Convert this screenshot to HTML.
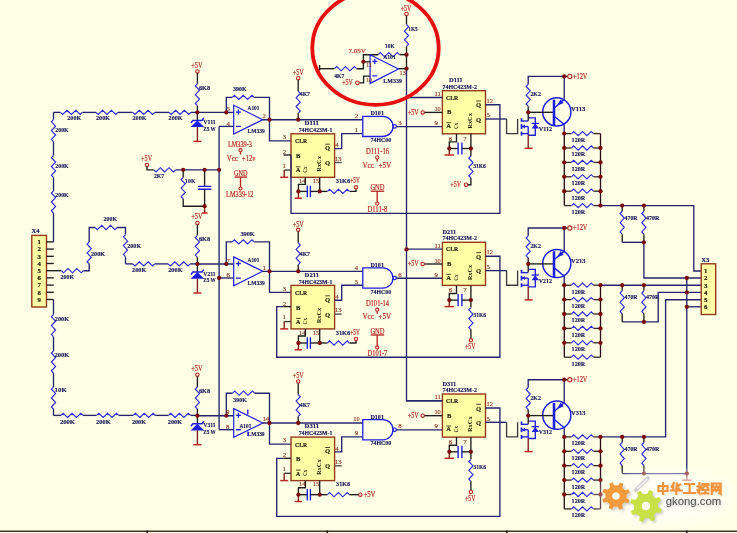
<!DOCTYPE html>
<html><head><meta charset="utf-8"><style>
html,body{margin:0;padding:0;background:#FFFFE6;}
body{width:737px;height:533px;overflow:hidden;}
svg{display:block;filter:blur(0.3px);}
</style></head><body>
<svg width="737" height="533" viewBox="0 0 737 533">
<rect width="737" height="533" fill="#FFFFE6"/>
<text x="191.2" y="67.65" font-family="Liberation Serif" font-size="7.2" font-weight="normal" fill="#b42824" text-anchor="start" textLength="11.3" lengthAdjust="spacingAndGlyphs"  stroke="#b42824" stroke-width="0.18">+5V</text>
<circle cx="197.4" cy="71.4" r="1.7" fill="none" stroke="#b42824" stroke-width="1.1"/>
<path d="M197.4,73.1 L197.4,83.7" stroke="#1e1e1e" stroke-width="1.35" fill="none" />
<path d="M197.4,83.7 L195.3,85.9 L199.5,90.3 L195.3,94.7 L199.5,99.1 L195.3,103.5 L197.4,105.7" stroke="#2a2ad6" stroke-width="1.15" fill="none" />
<path d="M197.4,105.7 L197.4,112.4" stroke="#1e1e1e" stroke-width="1.35" fill="none" />
<text x="198.9" y="89.68" font-family="Liberation Serif" font-size="7.0" font-weight="bold" fill="#18185a" text-anchor="start" textLength="11.2" lengthAdjust="spacingAndGlyphs"  stroke="#18185a" stroke-width="0.18">6K8</text>
<path d="M197.4,112.4 L197.4,120.4" stroke="#1e1e1e" stroke-width="1.35" fill="none" />
<path d="M190.6,127.1 L204.2,127.1 L197.4,120.4 Z" fill="#1e1ee0"/>
<path d="M191,123 L192.8,120.4 H202 L203.8,118" stroke="#1e1ee0" stroke-width="1.5" fill="none"/>
<path d="M197.4,127.1 L197.4,141.4" stroke="#7a1a1a" stroke-width="1.35" fill="none" />
<path d="M193.4,141.4 H201.4" stroke="#c02424" stroke-width="1.5" fill="none"/>
<text x="203.3" y="123.98" font-family="Liberation Serif" font-size="7.0" font-weight="bold" fill="#18185a" text-anchor="start" textLength="12.4" lengthAdjust="spacingAndGlyphs"  stroke="#18185a" stroke-width="0.18">V111</text>
<text x="203.3" y="130.88" font-family="Liberation Serif" font-size="7.0" font-weight="bold" fill="#18185a" text-anchor="start" textLength="12.5" lengthAdjust="spacingAndGlyphs"  stroke="#18185a" stroke-width="0.18">Z5 W</text>
<path d="M197.4,112.4 L233.7,112.4" stroke="#24246e" stroke-width="1.35" fill="none" />
<path d="M233.7,105.3 L262.7,119.7 L233.7,134.1 Z" fill="none" stroke="#1e1ee0" stroke-width="1.2"/>
<path d="M235.9,112.07 h5 M238.4,109.57 v5 M235.9,126.47 h5" stroke="#1e1ee0" stroke-width="1.3" fill="none"/>
<path d="M226.3,112.4 L226.3,97.4 L232.2,97.4" stroke="#24246e" stroke-width="1.35" fill="none" />
<path d="M232.2,97.4 L234.4,95.3 L238.8,99.5 L243.2,95.3 L247.6,99.5 L252,95.3 L254.2,97.4" stroke="#2a2ad6" stroke-width="1.15" fill="none" />
<path d="M254.2,97.4 L269.5,97.4 L269.5,119.7" stroke="#24246e" stroke-width="1.35" fill="none" />
<text x="233" y="90.78" font-family="Liberation Serif" font-size="7.0" font-weight="bold" fill="#18185a" text-anchor="start" textLength="13.7" lengthAdjust="spacingAndGlyphs"  stroke="#18185a" stroke-width="0.18">390K</text>
<text x="226.4" y="110.91" font-family="Liberation Serif" font-size="6.8" font-weight="normal" fill="#8c2818" text-anchor="start"  stroke="#8c2818" stroke-width="0.12">5</text>
<text x="226.4" y="125.51" font-family="Liberation Serif" font-size="6.8" font-weight="normal" fill="#8c2818" text-anchor="start"  stroke="#8c2818" stroke-width="0.12">4</text>
<text x="262.4" y="117.91" font-family="Liberation Serif" font-size="6.8" font-weight="normal" fill="#8c2818" text-anchor="start"  stroke="#8c2818" stroke-width="0.12">2</text>
<text x="247.5" y="110.28" font-family="Liberation Serif" font-size="7.0" font-weight="bold" fill="#18185a" text-anchor="start" textLength="12" lengthAdjust="spacingAndGlyphs"  stroke="#18185a" stroke-width="0.18">A101</text>
<text x="247.5" y="132.98" font-family="Liberation Serif" font-size="7.0" font-weight="bold" fill="#18185a" text-anchor="start" textLength="17.2" lengthAdjust="spacingAndGlyphs"  stroke="#18185a" stroke-width="0.18">LM339</text>
<path d="M219.1,126.4 L233.7,126.4" stroke="#24246e" stroke-width="1.35" fill="none" />
<path d="M262.7,119.7 L362.6,119.7" stroke="#24246e" stroke-width="1.35" fill="none" />
<path d="M269.5,119.7 L269.5,140.8 L291,140.8" stroke="#24246e" stroke-width="1.35" fill="none" />
<text x="292.8" y="75.15" font-family="Liberation Serif" font-size="7.2" font-weight="normal" fill="#b42824" text-anchor="start" textLength="11" lengthAdjust="spacingAndGlyphs"  stroke="#b42824" stroke-width="0.18">+5V</text>
<circle cx="298.2" cy="78.2" r="1.7" fill="none" stroke="#b42824" stroke-width="1.1"/>
<path d="M298.2,79.9 L298.2,91.2" stroke="#1e1e1e" stroke-width="1.35" fill="none" />
<path d="M298.2,91.2 L300.3,93.4 L296.1,97.8 L300.3,102.2 L296.1,106.6 L300.3,111 L298.2,113.2" stroke="#2a2ad6" stroke-width="1.15" fill="none" />
<path d="M298.2,113.2 L298.2,119.7" stroke="#1e1e1e" stroke-width="1.35" fill="none" />
<text x="299.8" y="96.08" font-family="Liberation Serif" font-size="7.0" font-weight="bold" fill="#18185a" text-anchor="start" textLength="10.2" lengthAdjust="spacingAndGlyphs"  stroke="#18185a" stroke-width="0.18">4K7</text>
<text x="304.6" y="125.18" font-family="Liberation Serif" font-size="7.0" font-weight="bold" fill="#18185a" text-anchor="start" textLength="14.4" lengthAdjust="spacingAndGlyphs"  stroke="#18185a" stroke-width="0.18">D111</text>
<text x="298.7" y="131.98" font-family="Liberation Serif" font-size="7.0" font-weight="bold" fill="#18185a" text-anchor="start" textLength="33.7" lengthAdjust="spacingAndGlyphs"  stroke="#18185a" stroke-width="0.18">74HC423M-1</text>
<rect x="291" y="133.8" width="43.6" height="43.5" fill="#FFFFA6" stroke="#923a1c" stroke-width="1.4"/>
<text x="282.8" y="139.11" font-family="Liberation Serif" font-size="6.8" font-weight="normal" fill="#8c2818" text-anchor="start"  stroke="#8c2818" stroke-width="0.12">3</text>
<text x="282.8" y="153.91" font-family="Liberation Serif" font-size="6.8" font-weight="normal" fill="#8c2818" text-anchor="start"  stroke="#8c2818" stroke-width="0.12">2</text>
<text x="282.4" y="167.71" font-family="Liberation Serif" font-size="6.8" font-weight="normal" fill="#8c2818" text-anchor="start"  stroke="#8c2818" stroke-width="0.12">1</text>
<text x="295" y="143.21" font-family="Liberation Serif" font-size="6.5" font-weight="bold" fill="#1a1a08" text-anchor="start" textLength="12.1" lengthAdjust="spacingAndGlyphs"  stroke="#1a1a08" stroke-width="0.18">CLR</text>
<text x="296" y="157.91" font-family="Liberation Serif" font-size="6.5" font-weight="bold" fill="#1a1a08" text-anchor="start"  stroke="#1a1a08" stroke-width="0.18">B</text>
<text x="295.8" y="172.21" font-family="Liberation Serif" font-size="6.5" font-weight="bold" fill="#1a1a08" text-anchor="start"  stroke="#1a1a08" stroke-width="0.18">A</text>
<path d="M295.9,166.8 L300.6,166.8" stroke="#1a1a08" stroke-width="0.8" fill="none" />
<text transform="translate(304.8,169.6) rotate(-90)" x="0" y="2.04" text-anchor="middle" font-family="Liberation Serif" font-size="6.0" font-weight="bold" fill="#1a1a08" textLength="6.4" lengthAdjust="spacingAndGlyphs">Cx</text>
<text transform="translate(318.8,163.9) rotate(-90)" x="0" y="2.04" text-anchor="middle" font-family="Liberation Serif" font-size="6.0" font-weight="bold" fill="#1a1a08" textLength="15.6" lengthAdjust="spacingAndGlyphs">RxCx</text>
<text x="325" y="150.01" font-family="Liberation Serif" font-size="6.5" font-weight="bold" fill="#1a1a08" text-anchor="start"  stroke="#1a1a08" stroke-width="0.18">Q</text>
<path d="M325.2,144.2 L329.9,144.2" stroke="#1a1a08" stroke-width="0.8" fill="none" />
<text x="325" y="165.01" font-family="Liberation Serif" font-size="6.5" font-weight="bold" fill="#1a1a08" text-anchor="start"  stroke="#1a1a08" stroke-width="0.18">Q</text>
<path d="M283.5,155 L291,155" stroke="#1e1e1e" stroke-width="1.35" fill="none" />
<path d="M284.2,170 L291,170" stroke="#3a3a3a" stroke-width="1.35" fill="none" />
<path d="M284.2,170 L284.2,177.3" stroke="#7a1a1a" stroke-width="1.35" fill="none" />
<path d="M280.2,177.3 H288.2" stroke="#c02424" stroke-width="1.5" fill="none"/>
<path d="M334.6,148.6 L341.7,148.6 L341.7,133.6 L362.6,133.6" stroke="#24246e" stroke-width="1.35" fill="none" />
<text x="335.3" y="147.21" font-family="Liberation Serif" font-size="6.8" font-weight="normal" fill="#8c2818" text-anchor="start"  stroke="#8c2818" stroke-width="0.12">4</text>
<path d="M334.6,162.5 L341.7,162.5" stroke="#4a4a4a" stroke-width="1.35" fill="none" />
<text x="335" y="160.71" font-family="Liberation Serif" font-size="6.8" font-weight="normal" fill="#8c2818" text-anchor="start" textLength="6.4" lengthAdjust="spacingAndGlyphs"  stroke="#8c2818" stroke-width="0.12">13</text>
<text x="299" y="183.11" font-family="Liberation Serif" font-size="6.8" font-weight="normal" fill="#8c2818" text-anchor="start" textLength="6.6" lengthAdjust="spacingAndGlyphs"  stroke="#8c2818" stroke-width="0.12">14</text>
<text x="312.8" y="183.11" font-family="Liberation Serif" font-size="6.8" font-weight="normal" fill="#8c2818" text-anchor="start" textLength="6.6" lengthAdjust="spacingAndGlyphs"  stroke="#8c2818" stroke-width="0.12">15</text>
<path d="M305.4,177.3 L305.4,184.4 L298.4,184.4 L298.4,191.4" stroke="#1e1e1e" stroke-width="1.35" fill="none" />
<path d="M298.4,191.4 L298.4,198.2" stroke="#7a1a1a" stroke-width="1.35" fill="none" />
<path d="M294.7,198.2 H301.9" stroke="#c02424" stroke-width="1.5" fill="none"/>
<path d="M298.4,191.4 L307.3,191.4" stroke="#1e1e1e" stroke-width="1.35" fill="none" />
<path d="M307.3,185.65 V197.15 M310.4,185.65 V197.15" stroke="#1e1ee0" stroke-width="1.4" fill="none"/>
<path d="M310.4,191.4 L319.7,191.4" stroke="#1e1e1e" stroke-width="1.35" fill="none" />
<path d="M319.7,177.3 L319.7,191.4" stroke="#1e1e1e" stroke-width="1.35" fill="none" />
<path d="M319.7,191.4 L327.4,191.4" stroke="#1e1e1e" stroke-width="1.35" fill="none" />
<path d="M327.4,191.4 L329.6,189.3 L334,193.5 L338.4,189.3 L342.8,193.5 L347.2,189.3 L349.4,191.4" stroke="#2a2ad6" stroke-width="1.15" fill="none" />
<path d="M349.4,191.4 L356,191.4 L356,189" stroke="#1e1e1e" stroke-width="1.35" fill="none" />
<circle cx="356" cy="187.3" r="1.7" fill="none" stroke="#b42824" stroke-width="1.1"/>
<text x="335.8" y="183.18" font-family="Liberation Serif" font-size="7.0" font-weight="bold" fill="#18185a" text-anchor="start" textLength="14.4" lengthAdjust="spacingAndGlyphs"  stroke="#18185a" stroke-width="0.18">31K6</text>
<text x="350.2" y="183.25" font-family="Liberation Serif" font-size="7.2" font-weight="normal" fill="#b42824" text-anchor="start" textLength="9.6" lengthAdjust="spacingAndGlyphs"  stroke="#b42824" stroke-width="0.18">+5V</text>
<path d="M362.8,116.3 H382.8 A10.2,10.1 0 0 1 382.8,136.5 H362.8 Z" fill="none" stroke="#1e1ee0" stroke-width="1.3"/>
<circle cx="394.7" cy="126.4" r="1.7" fill="none" stroke="#1e1ee0" stroke-width="1.2"/>
<text x="354.8" y="117.91" font-family="Liberation Serif" font-size="6.8" font-weight="normal" fill="#8c2818" text-anchor="start"  stroke="#8c2818" stroke-width="0.12">2</text>
<text x="354.8" y="131.91" font-family="Liberation Serif" font-size="6.8" font-weight="normal" fill="#8c2818" text-anchor="start"  stroke="#8c2818" stroke-width="0.12">1</text>
<text x="398.2" y="125.11" font-family="Liberation Serif" font-size="6.8" font-weight="normal" fill="#8c2818" text-anchor="start"  stroke="#8c2818" stroke-width="0.12">3</text>
<text x="370.4" y="115.38" font-family="Liberation Serif" font-size="7.0" font-weight="bold" fill="#18185a" text-anchor="start" textLength="13.6" lengthAdjust="spacingAndGlyphs"  stroke="#18185a" stroke-width="0.18">D101</text>
<text x="370.6" y="142.18" font-family="Liberation Serif" font-size="7.0" font-weight="bold" fill="#18185a" text-anchor="start" textLength="20.6" lengthAdjust="spacingAndGlyphs"  stroke="#18185a" stroke-width="0.18">74HC00</text>
<path d="M396.4,126.6 L442.4,126.6" stroke="#24246e" stroke-width="1.35" fill="none" />
<text x="449" y="82.28" font-family="Liberation Serif" font-size="7.0" font-weight="bold" fill="#18185a" text-anchor="start" textLength="13.6" lengthAdjust="spacingAndGlyphs"  stroke="#18185a" stroke-width="0.18">D111</text>
<text x="442.4" y="88.68" font-family="Liberation Serif" font-size="7.0" font-weight="bold" fill="#18185a" text-anchor="start" textLength="34.6" lengthAdjust="spacingAndGlyphs"  stroke="#18185a" stroke-width="0.18">74HC423M-2</text>
<rect x="442.4" y="90.7" width="43.1" height="43.1" fill="#FFFFA6" stroke="#923a1c" stroke-width="1.4"/>
<text x="446.1" y="99.61" font-family="Liberation Serif" font-size="6.5" font-weight="bold" fill="#1a1a08" text-anchor="start" textLength="12.1" lengthAdjust="spacingAndGlyphs"  stroke="#1a1a08" stroke-width="0.18">CLR</text>
<text x="446.9" y="114.31" font-family="Liberation Serif" font-size="6.5" font-weight="bold" fill="#1a1a08" text-anchor="start"  stroke="#1a1a08" stroke-width="0.18">B</text>
<text x="446.2" y="128.11" font-family="Liberation Serif" font-size="6.5" font-weight="bold" fill="#1a1a08" text-anchor="start"  stroke="#1a1a08" stroke-width="0.18">A</text>
<path d="M446.3,122.7 L451,122.7" stroke="#1a1a08" stroke-width="0.8" fill="none" />
<text transform="translate(456,125.9) rotate(-90)" x="0" y="2.04" text-anchor="middle" font-family="Liberation Serif" font-size="6.0" font-weight="bold" fill="#1a1a08" textLength="6.4" lengthAdjust="spacingAndGlyphs">Cx</text>
<text transform="translate(469.9,120.9) rotate(-90)" x="0" y="2.04" text-anchor="middle" font-family="Liberation Serif" font-size="6.0" font-weight="bold" fill="#1a1a08" textLength="15.6" lengthAdjust="spacingAndGlyphs">RxCx</text>
<text x="476" y="107.41" font-family="Liberation Serif" font-size="6.5" font-weight="bold" fill="#1a1a08" text-anchor="start"  stroke="#1a1a08" stroke-width="0.18">Q</text>
<path d="M476.2,101 L480.9,101" stroke="#1a1a08" stroke-width="0.8" fill="none" />
<text x="476" y="121.51" font-family="Liberation Serif" font-size="6.5" font-weight="bold" fill="#1a1a08" text-anchor="start"  stroke="#1a1a08" stroke-width="0.18">Q</text>
<text x="434.4" y="96.11" font-family="Liberation Serif" font-size="6.8" font-weight="normal" fill="#8c2818" text-anchor="start" textLength="6.4" lengthAdjust="spacingAndGlyphs"  stroke="#8c2818" stroke-width="0.12">11</text>
<text x="434.4" y="110.91" font-family="Liberation Serif" font-size="6.8" font-weight="normal" fill="#8c2818" text-anchor="start" textLength="6.4" lengthAdjust="spacingAndGlyphs"  stroke="#8c2818" stroke-width="0.12">10</text>
<text x="434.6" y="125.11" font-family="Liberation Serif" font-size="6.8" font-weight="normal" fill="#8c2818" text-anchor="start"  stroke="#8c2818" stroke-width="0.12">9</text>
<text x="486.6" y="102.71" font-family="Liberation Serif" font-size="6.8" font-weight="normal" fill="#8c2818" text-anchor="start" textLength="6.4" lengthAdjust="spacingAndGlyphs"  stroke="#8c2818" stroke-width="0.12">12</text>
<text x="486.4" y="117.21" font-family="Liberation Serif" font-size="6.8" font-weight="normal" fill="#8c2818" text-anchor="start"  stroke="#8c2818" stroke-width="0.12">5</text>
<text x="407.7" y="114.65" font-family="Liberation Serif" font-size="7.2" font-weight="normal" fill="#b42824" text-anchor="start" textLength="11" lengthAdjust="spacingAndGlyphs"  stroke="#b42824" stroke-width="0.18">+5V</text>
<circle cx="422.7" cy="112.4" r="1.7" fill="none" stroke="#b42824" stroke-width="1.1"/>
<path d="M424.5,112.4 L442.4,112.4" stroke="#1e1e1e" stroke-width="1.35" fill="none" />
<path d="M406.4,97.5 L442.4,97.5" stroke="#24246e" stroke-width="1.35" fill="none" />
<text x="448.8" y="140.51" font-family="Liberation Serif" font-size="6.8" font-weight="normal" fill="#8c2818" text-anchor="start"  stroke="#8c2818" stroke-width="0.12">6</text>
<text x="463.2" y="140.51" font-family="Liberation Serif" font-size="6.8" font-weight="normal" fill="#8c2818" text-anchor="start"  stroke="#8c2818" stroke-width="0.12">7</text>
<path d="M456.5,133.8 L456.5,141.9 L449.3,141.9 L449.3,148.5" stroke="#1e1e1e" stroke-width="1.35" fill="none" />
<path d="M449.3,148.5 L449.3,155" stroke="#7a1a1a" stroke-width="1.35" fill="none" />
<path d="M444.55,155 H454.05" stroke="#c02424" stroke-width="1.5" fill="none"/>
<path d="M449.3,148.5 L458.1,148.5" stroke="#1e1e1e" stroke-width="1.35" fill="none" />
<path d="M458.1,142.4 V154.6 M461.9,142.4 V154.6" stroke="#1e1ee0" stroke-width="1.4" fill="none"/>
<path d="M461.9,148.5 L470.9,148.5" stroke="#1e1e1e" stroke-width="1.35" fill="none" />
<path d="M470.9,133.8 L470.9,148.5" stroke="#1e1e1e" stroke-width="1.35" fill="none" />
<path d="M470.9,148.5 L470.9,156" stroke="#1e1e1e" stroke-width="1.35" fill="none" />
<path d="M470.9,156 L468.8,158.2 L473,162.6 L468.8,167 L473,171.4 L468.8,175.8 L470.9,178" stroke="#2a2ad6" stroke-width="1.15" fill="none" />
<path d="M470.9,178 L470.9,184.7 L467.8,184.7" stroke="#1e1e1e" stroke-width="1.35" fill="none" />
<circle cx="466" cy="184.7" r="1.7" fill="none" stroke="#b42824" stroke-width="1.1"/>
<text x="450.3" y="187.15" font-family="Liberation Serif" font-size="7.2" font-weight="normal" fill="#b42824" text-anchor="start" textLength="10.7" lengthAdjust="spacingAndGlyphs"  stroke="#b42824" stroke-width="0.18">+5V</text>
<text x="473.2" y="167.68" font-family="Liberation Serif" font-size="7.0" font-weight="bold" fill="#18185a" text-anchor="start" textLength="12.7" lengthAdjust="spacingAndGlyphs"  stroke="#18185a" stroke-width="0.18">31K6</text>
<path d="M485.5,119 L506.6,119" stroke="#24246e" stroke-width="1.35" fill="none" />
<path d="M485.5,104.7 L499.9,104.7 L499.9,213.3 L291,213.3 L291,155" stroke="#24246e" stroke-width="1.35" fill="none" />
<path d="M506.6,119 L506.6,133.6 L517.6,133.6 L517.6,119" stroke="#3a3a3a" stroke-width="1.35" fill="none" />
<path d="M521.5,118.2 L521.5,121.8" stroke="#1e1ee0" stroke-width="1.7" fill="none" />
<path d="M521.5,124.1 L521.5,128.9" stroke="#1e1ee0" stroke-width="1.7" fill="none" />
<path d="M521.5,131.6 L521.5,135.6" stroke="#1e1ee0" stroke-width="1.7" fill="none" />
<path d="M521.5,121 L528.2,121" stroke="#1e1ee0" stroke-width="1.35" fill="none" />
<path d="M521.5,126.5 L528.2,126.5" stroke="#1e1ee0" stroke-width="1.35" fill="none" />
<path d="M521.5,133.6 L528.2,133.6" stroke="#1e1ee0" stroke-width="1.35" fill="none" />
<path d="M522,126.5 l3,-2 v4 z" fill="#1e1ee0"/>
<path d="M528.2,126.5 L528.2,135.2" stroke="#1e1ee0" stroke-width="1.35" fill="none" />
<path d="M528.2,117.8 L535.3,117.8 L535.3,135.2 L528.2,135.2" stroke="#1e1ee0" stroke-width="1.35" fill="none" />
<path d="M531.6,128.6 H539 L535.3,123.6 Z" fill="#1e1ee0"/>
<path d="M531.6,123.4 L539,123.4" stroke="#1e1ee0" stroke-width="1.3" fill="none" />
<path d="M528.2,112.3 L528.2,121" stroke="#1e1e1e" stroke-width="1.35" fill="none" />
<path d="M528.2,135.2 L528.2,148.3" stroke="#7a1a1a" stroke-width="1.35" fill="none" />
<path d="M524.6,148.3 H532.6" stroke="#c02424" stroke-width="1.5" fill="none"/>
<circle cx="556.8" cy="111.9" r="14.1" fill="none" stroke="#1e1ee0" stroke-width="1.5"/>
<path d="M528.2,112.3 L554,112.3" stroke="#1e1e1e" stroke-width="1.35" fill="none" />
<path d="M554,99.6 L554,126" stroke="#1e1ee0" stroke-width="2.6" fill="none" />
<path d="M554,108.2 L564.2,99.5 L564.2,98.5" stroke="#1e1ee0" stroke-width="1.4" fill="none" />
<path d="M564.2,98.5 L564.2,76.4" stroke="#24246e" stroke-width="1.35" fill="none" />
<path d="M554,116 L564.2,124.5 L564.2,125.5" stroke="#1e1ee0" stroke-width="1.4" fill="none" />
<path d="M564.2,125.5 L564.2,133.6" stroke="#24246e" stroke-width="1.35" fill="none" />
<path d="M557,105.8 L563.6,103.1 L560.6,99.3 Z" fill="#1e1ee0"/>
<path d="M528.2,112.3 L528.2,106.2" stroke="#1e1e1e" stroke-width="1.35" fill="none" />
<path d="M528.2,106.2 L526.1,104 L530.3,99.6 L526.1,95.2 L530.3,90.8 L526.1,86.4 L528.2,84.2" stroke="#2a2ad6" stroke-width="1.15" fill="none" />
<path d="M528.2,84.2 L528.2,76.4 L564.2,76.4" stroke="#24246e" stroke-width="1.35" fill="none" />
<path d="M564.2,76.4 L567.8,76.4" stroke="#1e1e1e" stroke-width="1.35" fill="none" />
<circle cx="569.8" cy="76.4" r="2.1" fill="none" stroke="#b42824" stroke-width="1.1"/>
<text x="573" y="78.65" font-family="Liberation Serif" font-size="7.2" font-weight="normal" fill="#b42824" text-anchor="start" textLength="14.4" lengthAdjust="spacingAndGlyphs"  stroke="#b42824" stroke-width="0.18">+12V</text>
<text x="530.4" y="96.38" font-family="Liberation Serif" font-size="7.0" font-weight="bold" fill="#18185a" text-anchor="start" textLength="10.6" lengthAdjust="spacingAndGlyphs"  stroke="#18185a" stroke-width="0.18">2K2</text>
<text x="571" y="111.38" font-family="Liberation Serif" font-size="7.0" font-weight="bold" fill="#18185a" text-anchor="start" textLength="14.4" lengthAdjust="spacingAndGlyphs"  stroke="#18185a" stroke-width="0.18">V113</text>
<text x="538.8" y="131.18" font-family="Liberation Serif" font-size="7.0" font-weight="bold" fill="#18185a" text-anchor="start" textLength="13.2" lengthAdjust="spacingAndGlyphs"  stroke="#18185a" stroke-width="0.18">V112</text>
<path d="M564.3,133.6 L564.3,205.6" stroke="#2a1018" stroke-width="1.35" fill="none" />
<path d="M600.5,133.6 L600.5,205.6" stroke="#2a1018" stroke-width="1.35" fill="none" />
<path d="M564.2,133.6 L571.5,133.6" stroke="#3a2a2a" stroke-width="1.35" fill="none" />
<path d="M571.5,133.6 L573.7,131.5 L578.1,135.7 L582.5,131.5 L586.9,135.7 L591.3,131.5 L593.5,133.6" stroke="#2a2ad6" stroke-width="1.15" fill="none" />
<path d="M593.5,133.6 L600.5,133.6" stroke="#3a2a2a" stroke-width="1.35" fill="none" />
<text x="571.6" y="142.05" font-family="Liberation Serif" font-size="6.9" font-weight="bold" fill="#18185a" text-anchor="start" textLength="13.6" lengthAdjust="spacingAndGlyphs"  stroke="#18185a" stroke-width="0.18">120R</text>
<path d="M564.2,148 L571.5,148" stroke="#3a2a2a" stroke-width="1.35" fill="none" />
<path d="M571.5,148 L573.7,145.9 L578.1,150.1 L582.5,145.9 L586.9,150.1 L591.3,145.9 L593.5,148" stroke="#2a2ad6" stroke-width="1.15" fill="none" />
<path d="M593.5,148 L600.5,148" stroke="#3a2a2a" stroke-width="1.35" fill="none" />
<text x="571.6" y="156.45" font-family="Liberation Serif" font-size="6.9" font-weight="bold" fill="#18185a" text-anchor="start" textLength="13.6" lengthAdjust="spacingAndGlyphs"  stroke="#18185a" stroke-width="0.18">120R</text>
<path d="M564.2,162.4 L571.5,162.4" stroke="#3a2a2a" stroke-width="1.35" fill="none" />
<path d="M571.5,162.4 L573.7,160.3 L578.1,164.5 L582.5,160.3 L586.9,164.5 L591.3,160.3 L593.5,162.4" stroke="#2a2ad6" stroke-width="1.15" fill="none" />
<path d="M593.5,162.4 L600.5,162.4" stroke="#3a2a2a" stroke-width="1.35" fill="none" />
<text x="571.6" y="170.85" font-family="Liberation Serif" font-size="6.9" font-weight="bold" fill="#18185a" text-anchor="start" textLength="13.6" lengthAdjust="spacingAndGlyphs"  stroke="#18185a" stroke-width="0.18">120R</text>
<path d="M564.2,176.8 L571.5,176.8" stroke="#3a2a2a" stroke-width="1.35" fill="none" />
<path d="M571.5,176.8 L573.7,174.7 L578.1,178.9 L582.5,174.7 L586.9,178.9 L591.3,174.7 L593.5,176.8" stroke="#2a2ad6" stroke-width="1.15" fill="none" />
<path d="M593.5,176.8 L600.5,176.8" stroke="#3a2a2a" stroke-width="1.35" fill="none" />
<text x="571.6" y="185.25" font-family="Liberation Serif" font-size="6.9" font-weight="bold" fill="#18185a" text-anchor="start" textLength="13.6" lengthAdjust="spacingAndGlyphs"  stroke="#18185a" stroke-width="0.18">120R</text>
<path d="M564.2,191.2 L571.5,191.2" stroke="#3a2a2a" stroke-width="1.35" fill="none" />
<path d="M571.5,191.2 L573.7,189.1 L578.1,193.3 L582.5,189.1 L586.9,193.3 L591.3,189.1 L593.5,191.2" stroke="#2a2ad6" stroke-width="1.15" fill="none" />
<path d="M593.5,191.2 L600.5,191.2" stroke="#3a2a2a" stroke-width="1.35" fill="none" />
<text x="571.6" y="199.65" font-family="Liberation Serif" font-size="6.9" font-weight="bold" fill="#18185a" text-anchor="start" textLength="13.6" lengthAdjust="spacingAndGlyphs"  stroke="#18185a" stroke-width="0.18">120R</text>
<path d="M564.2,205.6 L571.5,205.6" stroke="#3a2a2a" stroke-width="1.35" fill="none" />
<path d="M571.5,205.6 L573.7,203.5 L578.1,207.7 L582.5,203.5 L586.9,207.7 L591.3,203.5 L593.5,205.6" stroke="#2a2ad6" stroke-width="1.15" fill="none" />
<path d="M593.5,205.6 L600.5,205.6" stroke="#3a2a2a" stroke-width="1.35" fill="none" />
<text x="571.6" y="214.05" font-family="Liberation Serif" font-size="6.9" font-weight="bold" fill="#18185a" text-anchor="start" textLength="13.6" lengthAdjust="spacingAndGlyphs"  stroke="#18185a" stroke-width="0.18">120R</text>
<path d="M600.5,205.6 L643.9,205.6" stroke="#24246e" stroke-width="1.35" fill="none" />
<path d="M622.2,205.6 L622.2,211.2" stroke="#1e1e1e" stroke-width="1.35" fill="none" />
<path d="M622.2,211.2 L620.1,213.5 L624.3,218.1 L620.1,222.7 L624.3,227.3 L620.1,231.9 L622.2,234.2" stroke="#2a2ad6" stroke-width="1.15" fill="none" />
<path d="M622.2,234.2 L622.2,242.3" stroke="#1e1e1e" stroke-width="1.35" fill="none" />
<path d="M643.9,205.6 L643.9,211.2" stroke="#1e1e1e" stroke-width="1.35" fill="none" />
<path d="M643.9,211.2 L641.8,213.5 L646,218.1 L641.8,222.7 L646,227.3 L641.8,231.9 L643.9,234.2" stroke="#2a2ad6" stroke-width="1.15" fill="none" />
<path d="M643.9,234.2 L643.9,242.3" stroke="#1e1e1e" stroke-width="1.35" fill="none" />
<text x="624.6" y="219.58" font-family="Liberation Serif" font-size="7.0" font-weight="bold" fill="#18185a" text-anchor="start" textLength="13" lengthAdjust="spacingAndGlyphs"  stroke="#18185a" stroke-width="0.18">470R</text>
<text x="645.9" y="219.58" font-family="Liberation Serif" font-size="7.0" font-weight="bold" fill="#18185a" text-anchor="start" textLength="13.6" lengthAdjust="spacingAndGlyphs"  stroke="#18185a" stroke-width="0.18">470R</text>
<text x="191.2" y="219.25" font-family="Liberation Serif" font-size="7.2" font-weight="normal" fill="#b42824" text-anchor="start" textLength="11.3" lengthAdjust="spacingAndGlyphs"  stroke="#b42824" stroke-width="0.18">+5V</text>
<circle cx="197.4" cy="223" r="1.7" fill="none" stroke="#b42824" stroke-width="1.1"/>
<path d="M197.4,224.7 L197.4,235.3" stroke="#1e1e1e" stroke-width="1.35" fill="none" />
<path d="M197.4,235.3 L195.3,237.5 L199.5,241.9 L195.3,246.3 L199.5,250.7 L195.3,255.1 L197.4,257.3" stroke="#2a2ad6" stroke-width="1.15" fill="none" />
<path d="M197.4,257.3 L197.4,264" stroke="#1e1e1e" stroke-width="1.35" fill="none" />
<text x="198.9" y="241.28" font-family="Liberation Serif" font-size="7.0" font-weight="bold" fill="#18185a" text-anchor="start" textLength="11.2" lengthAdjust="spacingAndGlyphs"  stroke="#18185a" stroke-width="0.18">6K8</text>
<path d="M197.4,264 L197.4,272" stroke="#1e1e1e" stroke-width="1.35" fill="none" />
<path d="M190.6,278.7 L204.2,278.7 L197.4,272 Z" fill="#1e1ee0"/>
<path d="M191,274.6 L192.8,272 H202 L203.8,269.6" stroke="#1e1ee0" stroke-width="1.5" fill="none"/>
<path d="M197.4,278.7 L197.4,293" stroke="#7a1a1a" stroke-width="1.35" fill="none" />
<path d="M193.4,293 H201.4" stroke="#c02424" stroke-width="1.5" fill="none"/>
<text x="203.3" y="275.58" font-family="Liberation Serif" font-size="7.0" font-weight="bold" fill="#18185a" text-anchor="start" textLength="12.4" lengthAdjust="spacingAndGlyphs"  stroke="#18185a" stroke-width="0.18">V211</text>
<text x="203.3" y="282.48" font-family="Liberation Serif" font-size="7.0" font-weight="bold" fill="#18185a" text-anchor="start" textLength="12.5" lengthAdjust="spacingAndGlyphs"  stroke="#18185a" stroke-width="0.18">Z5 W</text>
<path d="M197.4,264 L233.7,264" stroke="#24246e" stroke-width="1.35" fill="none" />
<path d="M233.7,256.9 L262.7,271.3 L233.7,285.7 Z" fill="none" stroke="#1e1ee0" stroke-width="1.2"/>
<path d="M235.9,263.67 h5 M238.4,261.17 v5 M235.9,278.07 h5" stroke="#1e1ee0" stroke-width="1.3" fill="none"/>
<path d="M226.3,264 L226.3,241.9 L232.2,241.9" stroke="#24246e" stroke-width="1.35" fill="none" />
<path d="M232.2,241.9 L234.4,239.8 L238.8,244 L243.2,239.8 L247.6,244 L252,239.8 L254.2,241.9" stroke="#2a2ad6" stroke-width="1.15" fill="none" />
<path d="M254.2,241.9 L269.5,241.9 L269.5,271.3" stroke="#24246e" stroke-width="1.35" fill="none" />
<text x="240.4" y="236.18" font-family="Liberation Serif" font-size="7.0" font-weight="bold" fill="#18185a" text-anchor="start" textLength="14.3" lengthAdjust="spacingAndGlyphs"  stroke="#18185a" stroke-width="0.18">390K</text>
<text x="226.4" y="262.51" font-family="Liberation Serif" font-size="6.8" font-weight="normal" fill="#8c2818" text-anchor="start"  stroke="#8c2818" stroke-width="0.12">7</text>
<text x="226.4" y="277.11" font-family="Liberation Serif" font-size="6.8" font-weight="normal" fill="#8c2818" text-anchor="start"  stroke="#8c2818" stroke-width="0.12">6</text>
<text x="262.4" y="269.51" font-family="Liberation Serif" font-size="6.8" font-weight="normal" fill="#8c2818" text-anchor="start"  stroke="#8c2818" stroke-width="0.12">1</text>
<text x="247.5" y="261.88" font-family="Liberation Serif" font-size="7.0" font-weight="bold" fill="#18185a" text-anchor="start" textLength="12" lengthAdjust="spacingAndGlyphs"  stroke="#18185a" stroke-width="0.18">A101</text>
<text x="247.5" y="284.58" font-family="Liberation Serif" font-size="7.0" font-weight="bold" fill="#18185a" text-anchor="start" textLength="17.2" lengthAdjust="spacingAndGlyphs"  stroke="#18185a" stroke-width="0.18">LM339</text>
<path d="M219.1,278 L233.7,278" stroke="#24246e" stroke-width="1.35" fill="none" />
<path d="M262.7,271.3 L362.6,271.3" stroke="#24246e" stroke-width="1.35" fill="none" />
<path d="M269.5,271.3 L269.5,292.4 L291,292.4" stroke="#24246e" stroke-width="1.35" fill="none" />
<text x="292.8" y="226.75" font-family="Liberation Serif" font-size="7.2" font-weight="normal" fill="#b42824" text-anchor="start" textLength="11" lengthAdjust="spacingAndGlyphs"  stroke="#b42824" stroke-width="0.18">+5V</text>
<circle cx="298.2" cy="229.8" r="1.7" fill="none" stroke="#b42824" stroke-width="1.1"/>
<path d="M298.2,231.5 L298.2,242.8" stroke="#1e1e1e" stroke-width="1.35" fill="none" />
<path d="M298.2,242.8 L300.3,245 L296.1,249.4 L300.3,253.8 L296.1,258.2 L300.3,262.6 L298.2,264.8" stroke="#2a2ad6" stroke-width="1.15" fill="none" />
<path d="M298.2,264.8 L298.2,271.3" stroke="#1e1e1e" stroke-width="1.35" fill="none" />
<text x="299.8" y="255.68" font-family="Liberation Serif" font-size="7.0" font-weight="bold" fill="#18185a" text-anchor="start" textLength="10.2" lengthAdjust="spacingAndGlyphs"  stroke="#18185a" stroke-width="0.18">4K7</text>
<text x="304.6" y="276.78" font-family="Liberation Serif" font-size="7.0" font-weight="bold" fill="#18185a" text-anchor="start" textLength="14.4" lengthAdjust="spacingAndGlyphs"  stroke="#18185a" stroke-width="0.18">D211</text>
<text x="298.7" y="283.58" font-family="Liberation Serif" font-size="7.0" font-weight="bold" fill="#18185a" text-anchor="start" textLength="33.7" lengthAdjust="spacingAndGlyphs"  stroke="#18185a" stroke-width="0.18">74HC423M-1</text>
<rect x="291" y="285.4" width="43.6" height="43.5" fill="#FFFFA6" stroke="#923a1c" stroke-width="1.4"/>
<text x="282.8" y="290.71" font-family="Liberation Serif" font-size="6.8" font-weight="normal" fill="#8c2818" text-anchor="start"  stroke="#8c2818" stroke-width="0.12">3</text>
<text x="282.8" y="305.51" font-family="Liberation Serif" font-size="6.8" font-weight="normal" fill="#8c2818" text-anchor="start"  stroke="#8c2818" stroke-width="0.12">2</text>
<text x="282.4" y="319.31" font-family="Liberation Serif" font-size="6.8" font-weight="normal" fill="#8c2818" text-anchor="start"  stroke="#8c2818" stroke-width="0.12">1</text>
<text x="295" y="294.81" font-family="Liberation Serif" font-size="6.5" font-weight="bold" fill="#1a1a08" text-anchor="start" textLength="12.1" lengthAdjust="spacingAndGlyphs"  stroke="#1a1a08" stroke-width="0.18">CLR</text>
<text x="296" y="309.51" font-family="Liberation Serif" font-size="6.5" font-weight="bold" fill="#1a1a08" text-anchor="start"  stroke="#1a1a08" stroke-width="0.18">B</text>
<text x="295.8" y="323.81" font-family="Liberation Serif" font-size="6.5" font-weight="bold" fill="#1a1a08" text-anchor="start"  stroke="#1a1a08" stroke-width="0.18">A</text>
<path d="M295.9,318.4 L300.6,318.4" stroke="#1a1a08" stroke-width="0.8" fill="none" />
<text transform="translate(304.8,321.2) rotate(-90)" x="0" y="2.04" text-anchor="middle" font-family="Liberation Serif" font-size="6.0" font-weight="bold" fill="#1a1a08" textLength="6.4" lengthAdjust="spacingAndGlyphs">Cx</text>
<text transform="translate(318.8,315.5) rotate(-90)" x="0" y="2.04" text-anchor="middle" font-family="Liberation Serif" font-size="6.0" font-weight="bold" fill="#1a1a08" textLength="15.6" lengthAdjust="spacingAndGlyphs">RxCx</text>
<text x="325" y="301.61" font-family="Liberation Serif" font-size="6.5" font-weight="bold" fill="#1a1a08" text-anchor="start"  stroke="#1a1a08" stroke-width="0.18">Q</text>
<path d="M325.2,295.8 L329.9,295.8" stroke="#1a1a08" stroke-width="0.8" fill="none" />
<text x="325" y="316.61" font-family="Liberation Serif" font-size="6.5" font-weight="bold" fill="#1a1a08" text-anchor="start"  stroke="#1a1a08" stroke-width="0.18">Q</text>
<path d="M283.5,306.6 L291,306.6" stroke="#1e1e1e" stroke-width="1.35" fill="none" />
<path d="M284.2,321.6 L291,321.6" stroke="#3a3a3a" stroke-width="1.35" fill="none" />
<path d="M284.2,321.6 L284.2,328.9" stroke="#7a1a1a" stroke-width="1.35" fill="none" />
<path d="M280.2,328.9 H288.2" stroke="#c02424" stroke-width="1.5" fill="none"/>
<path d="M334.6,300.2 L341.7,300.2 L341.7,285.2 L362.6,285.2" stroke="#24246e" stroke-width="1.35" fill="none" />
<text x="335.3" y="298.81" font-family="Liberation Serif" font-size="6.8" font-weight="normal" fill="#8c2818" text-anchor="start"  stroke="#8c2818" stroke-width="0.12">4</text>
<path d="M334.6,314.1 L341.7,314.1" stroke="#4a4a4a" stroke-width="1.35" fill="none" />
<text x="335" y="312.31" font-family="Liberation Serif" font-size="6.8" font-weight="normal" fill="#8c2818" text-anchor="start" textLength="6.4" lengthAdjust="spacingAndGlyphs"  stroke="#8c2818" stroke-width="0.12">13</text>
<text x="299" y="334.71" font-family="Liberation Serif" font-size="6.8" font-weight="normal" fill="#8c2818" text-anchor="start" textLength="6.6" lengthAdjust="spacingAndGlyphs"  stroke="#8c2818" stroke-width="0.12">14</text>
<text x="312.8" y="334.71" font-family="Liberation Serif" font-size="6.8" font-weight="normal" fill="#8c2818" text-anchor="start" textLength="6.6" lengthAdjust="spacingAndGlyphs"  stroke="#8c2818" stroke-width="0.12">15</text>
<path d="M305.4,328.9 L305.4,336 L298.4,336 L298.4,343" stroke="#1e1e1e" stroke-width="1.35" fill="none" />
<path d="M298.4,343 L298.4,349.8" stroke="#7a1a1a" stroke-width="1.35" fill="none" />
<path d="M294.7,349.8 H301.9" stroke="#c02424" stroke-width="1.5" fill="none"/>
<path d="M298.4,343 L307.3,343" stroke="#1e1e1e" stroke-width="1.35" fill="none" />
<path d="M307.3,337.25 V348.75 M310.4,337.25 V348.75" stroke="#1e1ee0" stroke-width="1.4" fill="none"/>
<path d="M310.4,343 L319.7,343" stroke="#1e1e1e" stroke-width="1.35" fill="none" />
<path d="M319.7,328.9 L319.7,343" stroke="#1e1e1e" stroke-width="1.35" fill="none" />
<path d="M319.7,343 L327.4,343" stroke="#1e1e1e" stroke-width="1.35" fill="none" />
<path d="M327.4,343 L329.6,340.9 L334,345.1 L338.4,340.9 L342.8,345.1 L347.2,340.9 L349.4,343" stroke="#2a2ad6" stroke-width="1.15" fill="none" />
<path d="M349.4,343 L356,343 L356,340.6" stroke="#1e1e1e" stroke-width="1.35" fill="none" />
<circle cx="356" cy="338.9" r="1.7" fill="none" stroke="#b42824" stroke-width="1.1"/>
<text x="335.8" y="334.78" font-family="Liberation Serif" font-size="7.0" font-weight="bold" fill="#18185a" text-anchor="start" textLength="14.4" lengthAdjust="spacingAndGlyphs"  stroke="#18185a" stroke-width="0.18">31K6</text>
<text x="350.2" y="334.85" font-family="Liberation Serif" font-size="7.2" font-weight="normal" fill="#b42824" text-anchor="start" textLength="9.6" lengthAdjust="spacingAndGlyphs"  stroke="#b42824" stroke-width="0.18">+5V</text>
<path d="M362.8,267.9 H382.8 A10.2,10.1 0 0 1 382.8,288.1 H362.8 Z" fill="none" stroke="#1e1ee0" stroke-width="1.3"/>
<circle cx="394.7" cy="278" r="1.7" fill="none" stroke="#1e1ee0" stroke-width="1.2"/>
<text x="354.8" y="269.51" font-family="Liberation Serif" font-size="6.8" font-weight="normal" fill="#8c2818" text-anchor="start"  stroke="#8c2818" stroke-width="0.12">4</text>
<text x="354.8" y="283.51" font-family="Liberation Serif" font-size="6.8" font-weight="normal" fill="#8c2818" text-anchor="start"  stroke="#8c2818" stroke-width="0.12">5</text>
<text x="398.2" y="276.71" font-family="Liberation Serif" font-size="6.8" font-weight="normal" fill="#8c2818" text-anchor="start"  stroke="#8c2818" stroke-width="0.12">6</text>
<text x="370.4" y="266.98" font-family="Liberation Serif" font-size="7.0" font-weight="bold" fill="#18185a" text-anchor="start" textLength="13.6" lengthAdjust="spacingAndGlyphs"  stroke="#18185a" stroke-width="0.18">D101</text>
<text x="370.6" y="293.78" font-family="Liberation Serif" font-size="7.0" font-weight="bold" fill="#18185a" text-anchor="start" textLength="20.6" lengthAdjust="spacingAndGlyphs"  stroke="#18185a" stroke-width="0.18">74HC00</text>
<path d="M396.4,278.2 L442.4,278.2" stroke="#24246e" stroke-width="1.35" fill="none" />
<text x="442.5" y="233.88" font-family="Liberation Serif" font-size="7.0" font-weight="bold" fill="#18185a" text-anchor="start" textLength="13.6" lengthAdjust="spacingAndGlyphs"  stroke="#18185a" stroke-width="0.18">D211</text>
<text x="442.4" y="240.28" font-family="Liberation Serif" font-size="7.0" font-weight="bold" fill="#18185a" text-anchor="start" textLength="34.6" lengthAdjust="spacingAndGlyphs"  stroke="#18185a" stroke-width="0.18">74HC423M-2</text>
<rect x="442.4" y="242.3" width="43.1" height="43.1" fill="#FFFFA6" stroke="#923a1c" stroke-width="1.4"/>
<text x="446.1" y="251.21" font-family="Liberation Serif" font-size="6.5" font-weight="bold" fill="#1a1a08" text-anchor="start" textLength="12.1" lengthAdjust="spacingAndGlyphs"  stroke="#1a1a08" stroke-width="0.18">CLR</text>
<text x="446.9" y="265.91" font-family="Liberation Serif" font-size="6.5" font-weight="bold" fill="#1a1a08" text-anchor="start"  stroke="#1a1a08" stroke-width="0.18">B</text>
<text x="446.2" y="279.71" font-family="Liberation Serif" font-size="6.5" font-weight="bold" fill="#1a1a08" text-anchor="start"  stroke="#1a1a08" stroke-width="0.18">A</text>
<path d="M446.3,274.3 L451,274.3" stroke="#1a1a08" stroke-width="0.8" fill="none" />
<text transform="translate(456,277.5) rotate(-90)" x="0" y="2.04" text-anchor="middle" font-family="Liberation Serif" font-size="6.0" font-weight="bold" fill="#1a1a08" textLength="6.4" lengthAdjust="spacingAndGlyphs">Cx</text>
<text transform="translate(469.9,272.5) rotate(-90)" x="0" y="2.04" text-anchor="middle" font-family="Liberation Serif" font-size="6.0" font-weight="bold" fill="#1a1a08" textLength="15.6" lengthAdjust="spacingAndGlyphs">RxCx</text>
<text x="476" y="259.01" font-family="Liberation Serif" font-size="6.5" font-weight="bold" fill="#1a1a08" text-anchor="start"  stroke="#1a1a08" stroke-width="0.18">Q</text>
<path d="M476.2,252.6 L480.9,252.6" stroke="#1a1a08" stroke-width="0.8" fill="none" />
<text x="476" y="273.11" font-family="Liberation Serif" font-size="6.5" font-weight="bold" fill="#1a1a08" text-anchor="start"  stroke="#1a1a08" stroke-width="0.18">Q</text>
<text x="434.4" y="247.71" font-family="Liberation Serif" font-size="6.8" font-weight="normal" fill="#8c2818" text-anchor="start" textLength="6.4" lengthAdjust="spacingAndGlyphs"  stroke="#8c2818" stroke-width="0.12">11</text>
<text x="434.4" y="262.51" font-family="Liberation Serif" font-size="6.8" font-weight="normal" fill="#8c2818" text-anchor="start" textLength="6.4" lengthAdjust="spacingAndGlyphs"  stroke="#8c2818" stroke-width="0.12">10</text>
<text x="434.6" y="276.71" font-family="Liberation Serif" font-size="6.8" font-weight="normal" fill="#8c2818" text-anchor="start"  stroke="#8c2818" stroke-width="0.12">9</text>
<text x="486.6" y="254.31" font-family="Liberation Serif" font-size="6.8" font-weight="normal" fill="#8c2818" text-anchor="start" textLength="6.4" lengthAdjust="spacingAndGlyphs"  stroke="#8c2818" stroke-width="0.12">12</text>
<text x="486.4" y="268.81" font-family="Liberation Serif" font-size="6.8" font-weight="normal" fill="#8c2818" text-anchor="start"  stroke="#8c2818" stroke-width="0.12">5</text>
<text x="407.7" y="266.25" font-family="Liberation Serif" font-size="7.2" font-weight="normal" fill="#b42824" text-anchor="start" textLength="11" lengthAdjust="spacingAndGlyphs"  stroke="#b42824" stroke-width="0.18">+5V</text>
<circle cx="422.7" cy="264" r="1.7" fill="none" stroke="#b42824" stroke-width="1.1"/>
<path d="M424.5,264 L442.4,264" stroke="#1e1e1e" stroke-width="1.35" fill="none" />
<path d="M406.4,249.1 L442.4,249.1" stroke="#24246e" stroke-width="1.35" fill="none" />
<text x="448.8" y="292.11" font-family="Liberation Serif" font-size="6.8" font-weight="normal" fill="#8c2818" text-anchor="start"  stroke="#8c2818" stroke-width="0.12">6</text>
<text x="463.2" y="292.11" font-family="Liberation Serif" font-size="6.8" font-weight="normal" fill="#8c2818" text-anchor="start"  stroke="#8c2818" stroke-width="0.12">7</text>
<path d="M456.5,285.4 L456.5,293.5 L449.3,293.5 L449.3,300.1" stroke="#1e1e1e" stroke-width="1.35" fill="none" />
<path d="M449.3,300.1 L449.3,306.6" stroke="#7a1a1a" stroke-width="1.35" fill="none" />
<path d="M444.55,306.6 H454.05" stroke="#c02424" stroke-width="1.5" fill="none"/>
<path d="M449.3,300.1 L458.1,300.1" stroke="#1e1e1e" stroke-width="1.35" fill="none" />
<path d="M458.1,294 V306.2 M461.9,294 V306.2" stroke="#1e1ee0" stroke-width="1.4" fill="none"/>
<path d="M461.9,300.1 L470.9,300.1" stroke="#1e1e1e" stroke-width="1.35" fill="none" />
<path d="M470.9,285.4 L470.9,300.1" stroke="#1e1e1e" stroke-width="1.35" fill="none" />
<path d="M470.9,300.1 L470.9,307.6" stroke="#1e1e1e" stroke-width="1.35" fill="none" />
<path d="M470.9,307.6 L468.8,309.8 L473,314.2 L468.8,318.6 L473,323 L468.8,327.4 L470.9,329.6" stroke="#2a2ad6" stroke-width="1.15" fill="none" />
<path d="M470.9,329.6 L470.9,338.5" stroke="#1e1e1e" stroke-width="1.35" fill="none" />
<circle cx="470.9" cy="340.3" r="1.7" fill="none" stroke="#b42824" stroke-width="1.1"/>
<text x="465" y="349.45" font-family="Liberation Serif" font-size="7.2" font-weight="normal" fill="#b42824" text-anchor="start" textLength="10.6" lengthAdjust="spacingAndGlyphs"  stroke="#b42824" stroke-width="0.18">+5V</text>
<text x="473.4" y="316.98" font-family="Liberation Serif" font-size="7.0" font-weight="bold" fill="#18185a" text-anchor="start" textLength="12.7" lengthAdjust="spacingAndGlyphs"  stroke="#18185a" stroke-width="0.18">31K6</text>
<path d="M485.5,270.6 L506.6,270.6" stroke="#24246e" stroke-width="1.35" fill="none" />
<path d="M485.5,256.3 L499.9,256.3 L499.9,357.2 L276.7,357.2 L276.7,306.6 L283.5,306.6" stroke="#24246e" stroke-width="1.35" fill="none" />
<path d="M506.6,270.6 L506.6,285.2 L517.6,285.2 L517.6,270.6" stroke="#3a3a3a" stroke-width="1.35" fill="none" />
<path d="M521.5,269.8 L521.5,273.4" stroke="#1e1ee0" stroke-width="1.7" fill="none" />
<path d="M521.5,275.7 L521.5,280.5" stroke="#1e1ee0" stroke-width="1.7" fill="none" />
<path d="M521.5,283.2 L521.5,287.2" stroke="#1e1ee0" stroke-width="1.7" fill="none" />
<path d="M521.5,272.6 L528.2,272.6" stroke="#1e1ee0" stroke-width="1.35" fill="none" />
<path d="M521.5,278.1 L528.2,278.1" stroke="#1e1ee0" stroke-width="1.35" fill="none" />
<path d="M521.5,285.2 L528.2,285.2" stroke="#1e1ee0" stroke-width="1.35" fill="none" />
<path d="M522,278.1 l3,-2 v4 z" fill="#1e1ee0"/>
<path d="M528.2,278.1 L528.2,286.8" stroke="#1e1ee0" stroke-width="1.35" fill="none" />
<path d="M528.2,269.4 L535.3,269.4 L535.3,286.8 L528.2,286.8" stroke="#1e1ee0" stroke-width="1.35" fill="none" />
<path d="M531.6,280.2 H539 L535.3,275.2 Z" fill="#1e1ee0"/>
<path d="M531.6,275 L539,275" stroke="#1e1ee0" stroke-width="1.3" fill="none" />
<path d="M528.2,263.9 L528.2,272.6" stroke="#1e1e1e" stroke-width="1.35" fill="none" />
<path d="M528.2,286.8 L528.2,299.9" stroke="#7a1a1a" stroke-width="1.35" fill="none" />
<path d="M524.6,299.9 H532.6" stroke="#c02424" stroke-width="1.5" fill="none"/>
<circle cx="556.8" cy="263.5" r="14.1" fill="none" stroke="#1e1ee0" stroke-width="1.5"/>
<path d="M528.2,263.9 L554,263.9" stroke="#1e1e1e" stroke-width="1.35" fill="none" />
<path d="M554,251.2 L554,277.6" stroke="#1e1ee0" stroke-width="2.6" fill="none" />
<path d="M554,259.8 L564.2,251.1 L564.2,250.1" stroke="#1e1ee0" stroke-width="1.4" fill="none" />
<path d="M564.2,250.1 L564.2,228" stroke="#24246e" stroke-width="1.35" fill="none" />
<path d="M554,267.6 L564.2,276.1 L564.2,277.1" stroke="#1e1ee0" stroke-width="1.4" fill="none" />
<path d="M564.2,277.1 L564.2,285.2" stroke="#24246e" stroke-width="1.35" fill="none" />
<path d="M557,257.4 L563.6,254.7 L560.6,250.9 Z" fill="#1e1ee0"/>
<path d="M528.2,263.9 L528.2,257.8" stroke="#1e1e1e" stroke-width="1.35" fill="none" />
<path d="M528.2,257.8 L526.1,255.6 L530.3,251.2 L526.1,246.8 L530.3,242.4 L526.1,238 L528.2,235.8" stroke="#2a2ad6" stroke-width="1.15" fill="none" />
<path d="M528.2,235.8 L528.2,228 L564.2,228" stroke="#24246e" stroke-width="1.35" fill="none" />
<path d="M564.2,228 L567.8,228" stroke="#1e1e1e" stroke-width="1.35" fill="none" />
<circle cx="569.8" cy="228" r="2.1" fill="none" stroke="#b42824" stroke-width="1.1"/>
<text x="573" y="230.25" font-family="Liberation Serif" font-size="7.2" font-weight="normal" fill="#b42824" text-anchor="start" textLength="14.4" lengthAdjust="spacingAndGlyphs"  stroke="#b42824" stroke-width="0.18">+12V</text>
<text x="530.4" y="247.98" font-family="Liberation Serif" font-size="7.0" font-weight="bold" fill="#18185a" text-anchor="start" textLength="10.6" lengthAdjust="spacingAndGlyphs"  stroke="#18185a" stroke-width="0.18">2K2</text>
<text x="571" y="262.98" font-family="Liberation Serif" font-size="7.0" font-weight="bold" fill="#18185a" text-anchor="start" textLength="14.4" lengthAdjust="spacingAndGlyphs"  stroke="#18185a" stroke-width="0.18">V213</text>
<text x="538.8" y="282.78" font-family="Liberation Serif" font-size="7.0" font-weight="bold" fill="#18185a" text-anchor="start" textLength="13.2" lengthAdjust="spacingAndGlyphs"  stroke="#18185a" stroke-width="0.18">V212</text>
<path d="M564.3,285.2 L564.3,357.2" stroke="#2a1018" stroke-width="1.35" fill="none" />
<path d="M600.5,285.2 L600.5,357.2" stroke="#2a1018" stroke-width="1.35" fill="none" />
<path d="M564.2,285.2 L571.5,285.2" stroke="#3a2a2a" stroke-width="1.35" fill="none" />
<path d="M571.5,285.2 L573.7,283.1 L578.1,287.3 L582.5,283.1 L586.9,287.3 L591.3,283.1 L593.5,285.2" stroke="#2a2ad6" stroke-width="1.15" fill="none" />
<path d="M593.5,285.2 L600.5,285.2" stroke="#3a2a2a" stroke-width="1.35" fill="none" />
<text x="571.6" y="293.65" font-family="Liberation Serif" font-size="6.9" font-weight="bold" fill="#18185a" text-anchor="start" textLength="13.6" lengthAdjust="spacingAndGlyphs"  stroke="#18185a" stroke-width="0.18">120R</text>
<path d="M564.2,299.6 L571.5,299.6" stroke="#3a2a2a" stroke-width="1.35" fill="none" />
<path d="M571.5,299.6 L573.7,297.5 L578.1,301.7 L582.5,297.5 L586.9,301.7 L591.3,297.5 L593.5,299.6" stroke="#2a2ad6" stroke-width="1.15" fill="none" />
<path d="M593.5,299.6 L600.5,299.6" stroke="#3a2a2a" stroke-width="1.35" fill="none" />
<text x="571.6" y="308.05" font-family="Liberation Serif" font-size="6.9" font-weight="bold" fill="#18185a" text-anchor="start" textLength="13.6" lengthAdjust="spacingAndGlyphs"  stroke="#18185a" stroke-width="0.18">120R</text>
<path d="M564.2,314 L571.5,314" stroke="#3a2a2a" stroke-width="1.35" fill="none" />
<path d="M571.5,314 L573.7,311.9 L578.1,316.1 L582.5,311.9 L586.9,316.1 L591.3,311.9 L593.5,314" stroke="#2a2ad6" stroke-width="1.15" fill="none" />
<path d="M593.5,314 L600.5,314" stroke="#3a2a2a" stroke-width="1.35" fill="none" />
<text x="571.6" y="322.45" font-family="Liberation Serif" font-size="6.9" font-weight="bold" fill="#18185a" text-anchor="start" textLength="13.6" lengthAdjust="spacingAndGlyphs"  stroke="#18185a" stroke-width="0.18">120R</text>
<path d="M564.2,328.4 L571.5,328.4" stroke="#3a2a2a" stroke-width="1.35" fill="none" />
<path d="M571.5,328.4 L573.7,326.3 L578.1,330.5 L582.5,326.3 L586.9,330.5 L591.3,326.3 L593.5,328.4" stroke="#2a2ad6" stroke-width="1.15" fill="none" />
<path d="M593.5,328.4 L600.5,328.4" stroke="#3a2a2a" stroke-width="1.35" fill="none" />
<text x="571.6" y="336.85" font-family="Liberation Serif" font-size="6.9" font-weight="bold" fill="#18185a" text-anchor="start" textLength="13.6" lengthAdjust="spacingAndGlyphs"  stroke="#18185a" stroke-width="0.18">120R</text>
<path d="M564.2,342.8 L571.5,342.8" stroke="#3a2a2a" stroke-width="1.35" fill="none" />
<path d="M571.5,342.8 L573.7,340.7 L578.1,344.9 L582.5,340.7 L586.9,344.9 L591.3,340.7 L593.5,342.8" stroke="#2a2ad6" stroke-width="1.15" fill="none" />
<path d="M593.5,342.8 L600.5,342.8" stroke="#3a2a2a" stroke-width="1.35" fill="none" />
<text x="571.6" y="351.25" font-family="Liberation Serif" font-size="6.9" font-weight="bold" fill="#18185a" text-anchor="start" textLength="13.6" lengthAdjust="spacingAndGlyphs"  stroke="#18185a" stroke-width="0.18">120R</text>
<path d="M564.2,357.2 L571.5,357.2" stroke="#3a2a2a" stroke-width="1.35" fill="none" />
<path d="M571.5,357.2 L573.7,355.1 L578.1,359.3 L582.5,355.1 L586.9,359.3 L591.3,355.1 L593.5,357.2" stroke="#2a2ad6" stroke-width="1.15" fill="none" />
<path d="M593.5,357.2 L600.5,357.2" stroke="#3a2a2a" stroke-width="1.35" fill="none" />
<text x="571.6" y="365.65" font-family="Liberation Serif" font-size="6.9" font-weight="bold" fill="#18185a" text-anchor="start" textLength="13.6" lengthAdjust="spacingAndGlyphs"  stroke="#18185a" stroke-width="0.18">120R</text>
<path d="M600.5,285.2 L643.9,285.2" stroke="#24246e" stroke-width="1.35" fill="none" />
<path d="M622.2,285.2 L622.2,290.8" stroke="#1e1e1e" stroke-width="1.35" fill="none" />
<path d="M622.2,290.8 L620.1,293.1 L624.3,297.7 L620.1,302.3 L624.3,306.9 L620.1,311.5 L622.2,313.8" stroke="#2a2ad6" stroke-width="1.15" fill="none" />
<path d="M622.2,313.8 L622.2,321.9" stroke="#1e1e1e" stroke-width="1.35" fill="none" />
<path d="M643.9,285.2 L643.9,290.8" stroke="#1e1e1e" stroke-width="1.35" fill="none" />
<path d="M643.9,290.8 L641.8,293.1 L646,297.7 L641.8,302.3 L646,306.9 L641.8,311.5 L643.9,313.8" stroke="#2a2ad6" stroke-width="1.15" fill="none" />
<path d="M643.9,313.8 L643.9,321.9" stroke="#1e1e1e" stroke-width="1.35" fill="none" />
<text x="624.6" y="299.18" font-family="Liberation Serif" font-size="7.0" font-weight="bold" fill="#18185a" text-anchor="start" textLength="13" lengthAdjust="spacingAndGlyphs"  stroke="#18185a" stroke-width="0.18">470R</text>
<text x="645.9" y="299.18" font-family="Liberation Serif" font-size="7.0" font-weight="bold" fill="#18185a" text-anchor="start" textLength="13.6" lengthAdjust="spacingAndGlyphs"  stroke="#18185a" stroke-width="0.18">470R</text>
<text x="191.2" y="370.95" font-family="Liberation Serif" font-size="7.2" font-weight="normal" fill="#b42824" text-anchor="start" textLength="11.3" lengthAdjust="spacingAndGlyphs"  stroke="#b42824" stroke-width="0.18">+5V</text>
<circle cx="197.4" cy="374.7" r="1.7" fill="none" stroke="#b42824" stroke-width="1.1"/>
<path d="M197.4,376.4 L197.4,387" stroke="#1e1e1e" stroke-width="1.35" fill="none" />
<path d="M197.4,387 L195.3,389.2 L199.5,393.6 L195.3,398 L199.5,402.4 L195.3,406.8 L197.4,409" stroke="#2a2ad6" stroke-width="1.15" fill="none" />
<path d="M197.4,409 L197.4,415.7" stroke="#1e1e1e" stroke-width="1.35" fill="none" />
<text x="198.9" y="392.98" font-family="Liberation Serif" font-size="7.0" font-weight="bold" fill="#18185a" text-anchor="start" textLength="11.2" lengthAdjust="spacingAndGlyphs"  stroke="#18185a" stroke-width="0.18">6K8</text>
<path d="M197.4,415.7 L197.4,423.7" stroke="#1e1e1e" stroke-width="1.35" fill="none" />
<path d="M190.6,430.4 L204.2,430.4 L197.4,423.7 Z" fill="#1e1ee0"/>
<path d="M191,426.3 L192.8,423.7 H202 L203.8,421.3" stroke="#1e1ee0" stroke-width="1.5" fill="none"/>
<path d="M197.4,430.4 L197.4,444.7" stroke="#7a1a1a" stroke-width="1.35" fill="none" />
<path d="M193.4,444.7 H201.4" stroke="#c02424" stroke-width="1.5" fill="none"/>
<text x="203.3" y="427.28" font-family="Liberation Serif" font-size="7.0" font-weight="bold" fill="#18185a" text-anchor="start" textLength="12.4" lengthAdjust="spacingAndGlyphs"  stroke="#18185a" stroke-width="0.18">V311</text>
<text x="203.3" y="434.18" font-family="Liberation Serif" font-size="7.0" font-weight="bold" fill="#18185a" text-anchor="start" textLength="12.5" lengthAdjust="spacingAndGlyphs"  stroke="#18185a" stroke-width="0.18">Z5 W</text>
<path d="M197.4,415.7 L233.7,415.7" stroke="#24246e" stroke-width="1.35" fill="none" />
<path d="M233.7,408.6 L262.7,423 L233.7,437.4 Z" fill="none" stroke="#1e1ee0" stroke-width="1.2"/>
<path d="M235.9,415.37 h5 M238.4,412.87 v5 M235.9,429.77 h5" stroke="#1e1ee0" stroke-width="1.3" fill="none"/>
<path d="M226.3,415.7 L226.3,393.2 L232.6,393.2" stroke="#24246e" stroke-width="1.35" fill="none" />
<path d="M232.6,393.2 L234.8,391.1 L239.2,395.3 L243.6,391.1 L248,395.3 L252.4,391.1 L254.6,393.2" stroke="#2a2ad6" stroke-width="1.15" fill="none" />
<path d="M254.6,393.2 L269.5,393.2 L269.5,423" stroke="#24246e" stroke-width="1.35" fill="none" />
<text x="233.3" y="402.08" font-family="Liberation Serif" font-size="7.0" font-weight="bold" fill="#18185a" text-anchor="start" textLength="13.5" lengthAdjust="spacingAndGlyphs"  stroke="#18185a" stroke-width="0.18">390K</text>
<text x="226" y="414.21" font-family="Liberation Serif" font-size="6.8" font-weight="normal" fill="#8c2818" text-anchor="start"  stroke="#8c2818" stroke-width="0.12">9</text>
<text x="226" y="428.81" font-family="Liberation Serif" font-size="6.8" font-weight="normal" fill="#8c2818" text-anchor="start"  stroke="#8c2818" stroke-width="0.12">8</text>
<text x="262.4" y="421.21" font-family="Liberation Serif" font-size="6.8" font-weight="normal" fill="#8c2818" text-anchor="start"  stroke="#8c2818" stroke-width="0.12">14</text>
<text x="239.5" y="427.88" font-family="Liberation Serif" font-size="7.0" font-weight="bold" fill="#18185a" text-anchor="start" textLength="11.8" lengthAdjust="spacingAndGlyphs"  stroke="#18185a" stroke-width="0.18">A101</text>
<text x="247.6" y="435.78" font-family="Liberation Serif" font-size="7.0" font-weight="bold" fill="#18185a" text-anchor="start" textLength="17" lengthAdjust="spacingAndGlyphs"  stroke="#18185a" stroke-width="0.18">LM339</text>
<path d="M247.8,409.5 L247.8,414.5" stroke="#1e1ee0" stroke-width="1.35" fill="none" />
<path d="M248,431.5 L248,436.2" stroke="#1e1ee0" stroke-width="1.35" fill="none" />
<path d="M219.1,429.7 L233.7,429.7" stroke="#24246e" stroke-width="1.35" fill="none" />
<path d="M262.7,423 L362.6,423" stroke="#24246e" stroke-width="1.35" fill="none" />
<path d="M269.5,423 L269.5,444.1 L291,444.1" stroke="#24246e" stroke-width="1.35" fill="none" />
<text x="292.8" y="378.45" font-family="Liberation Serif" font-size="7.2" font-weight="normal" fill="#b42824" text-anchor="start" textLength="11" lengthAdjust="spacingAndGlyphs"  stroke="#b42824" stroke-width="0.18">+5V</text>
<circle cx="298.2" cy="381.5" r="1.7" fill="none" stroke="#b42824" stroke-width="1.1"/>
<path d="M298.2,383.2 L298.2,394.5" stroke="#1e1e1e" stroke-width="1.35" fill="none" />
<path d="M298.2,394.5 L300.3,396.7 L296.1,401.1 L300.3,405.5 L296.1,409.9 L300.3,414.3 L298.2,416.5" stroke="#2a2ad6" stroke-width="1.15" fill="none" />
<path d="M298.2,416.5 L298.2,423" stroke="#1e1e1e" stroke-width="1.35" fill="none" />
<text x="299.8" y="407.08" font-family="Liberation Serif" font-size="7.0" font-weight="bold" fill="#18185a" text-anchor="start" textLength="10.2" lengthAdjust="spacingAndGlyphs"  stroke="#18185a" stroke-width="0.18">4K7</text>
<text x="304.6" y="428.48" font-family="Liberation Serif" font-size="7.0" font-weight="bold" fill="#18185a" text-anchor="start" textLength="14.4" lengthAdjust="spacingAndGlyphs"  stroke="#18185a" stroke-width="0.18">D311</text>
<text x="298.7" y="435.28" font-family="Liberation Serif" font-size="7.0" font-weight="bold" fill="#18185a" text-anchor="start" textLength="33.7" lengthAdjust="spacingAndGlyphs"  stroke="#18185a" stroke-width="0.18">74HC423M-1</text>
<rect x="291" y="437.1" width="43.6" height="43.5" fill="#FFFFA6" stroke="#923a1c" stroke-width="1.4"/>
<text x="282.8" y="442.41" font-family="Liberation Serif" font-size="6.8" font-weight="normal" fill="#8c2818" text-anchor="start"  stroke="#8c2818" stroke-width="0.12">3</text>
<text x="282.8" y="457.21" font-family="Liberation Serif" font-size="6.8" font-weight="normal" fill="#8c2818" text-anchor="start"  stroke="#8c2818" stroke-width="0.12">2</text>
<text x="282.4" y="471.01" font-family="Liberation Serif" font-size="6.8" font-weight="normal" fill="#8c2818" text-anchor="start"  stroke="#8c2818" stroke-width="0.12">1</text>
<text x="295" y="446.51" font-family="Liberation Serif" font-size="6.5" font-weight="bold" fill="#1a1a08" text-anchor="start" textLength="12.1" lengthAdjust="spacingAndGlyphs"  stroke="#1a1a08" stroke-width="0.18">CLR</text>
<text x="296" y="461.21" font-family="Liberation Serif" font-size="6.5" font-weight="bold" fill="#1a1a08" text-anchor="start"  stroke="#1a1a08" stroke-width="0.18">B</text>
<text x="295.8" y="475.51" font-family="Liberation Serif" font-size="6.5" font-weight="bold" fill="#1a1a08" text-anchor="start"  stroke="#1a1a08" stroke-width="0.18">A</text>
<path d="M295.9,470.1 L300.6,470.1" stroke="#1a1a08" stroke-width="0.8" fill="none" />
<text transform="translate(304.8,472.9) rotate(-90)" x="0" y="2.04" text-anchor="middle" font-family="Liberation Serif" font-size="6.0" font-weight="bold" fill="#1a1a08" textLength="6.4" lengthAdjust="spacingAndGlyphs">Cx</text>
<text transform="translate(318.8,467.2) rotate(-90)" x="0" y="2.04" text-anchor="middle" font-family="Liberation Serif" font-size="6.0" font-weight="bold" fill="#1a1a08" textLength="15.6" lengthAdjust="spacingAndGlyphs">RxCx</text>
<text x="325" y="453.31" font-family="Liberation Serif" font-size="6.5" font-weight="bold" fill="#1a1a08" text-anchor="start"  stroke="#1a1a08" stroke-width="0.18">Q</text>
<path d="M325.2,447.5 L329.9,447.5" stroke="#1a1a08" stroke-width="0.8" fill="none" />
<text x="325" y="468.31" font-family="Liberation Serif" font-size="6.5" font-weight="bold" fill="#1a1a08" text-anchor="start"  stroke="#1a1a08" stroke-width="0.18">Q</text>
<path d="M283.5,458.3 L291,458.3" stroke="#1e1e1e" stroke-width="1.35" fill="none" />
<path d="M284.2,473.3 L291,473.3" stroke="#3a3a3a" stroke-width="1.35" fill="none" />
<path d="M284.2,473.3 L284.2,480.6" stroke="#7a1a1a" stroke-width="1.35" fill="none" />
<path d="M280.2,480.6 H288.2" stroke="#c02424" stroke-width="1.5" fill="none"/>
<path d="M334.6,451.9 L341.7,451.9 L341.7,436.9 L362.6,436.9" stroke="#24246e" stroke-width="1.35" fill="none" />
<text x="335.3" y="450.51" font-family="Liberation Serif" font-size="6.8" font-weight="normal" fill="#8c2818" text-anchor="start"  stroke="#8c2818" stroke-width="0.12">4</text>
<path d="M334.6,465.8 L341.7,465.8" stroke="#4a4a4a" stroke-width="1.35" fill="none" />
<text x="335" y="464.01" font-family="Liberation Serif" font-size="6.8" font-weight="normal" fill="#8c2818" text-anchor="start" textLength="6.4" lengthAdjust="spacingAndGlyphs"  stroke="#8c2818" stroke-width="0.12">13</text>
<text x="299" y="486.41" font-family="Liberation Serif" font-size="6.8" font-weight="normal" fill="#8c2818" text-anchor="start" textLength="6.6" lengthAdjust="spacingAndGlyphs"  stroke="#8c2818" stroke-width="0.12">14</text>
<text x="312.8" y="486.41" font-family="Liberation Serif" font-size="6.8" font-weight="normal" fill="#8c2818" text-anchor="start" textLength="6.6" lengthAdjust="spacingAndGlyphs"  stroke="#8c2818" stroke-width="0.12">15</text>
<path d="M305.4,480.6 L305.4,487.7 L298.4,487.7 L298.4,494.7" stroke="#1e1e1e" stroke-width="1.35" fill="none" />
<path d="M298.4,494.7 L298.4,501.5" stroke="#7a1a1a" stroke-width="1.35" fill="none" />
<path d="M294.7,501.5 H301.9" stroke="#c02424" stroke-width="1.5" fill="none"/>
<path d="M298.4,494.7 L307.3,494.7" stroke="#1e1e1e" stroke-width="1.35" fill="none" />
<path d="M307.3,488.95 V500.45 M310.4,488.95 V500.45" stroke="#1e1ee0" stroke-width="1.4" fill="none"/>
<path d="M310.4,494.7 L319.7,494.7" stroke="#1e1e1e" stroke-width="1.35" fill="none" />
<path d="M319.7,480.6 L319.7,494.7" stroke="#1e1e1e" stroke-width="1.35" fill="none" />
<path d="M319.7,494.7 L327.4,494.7" stroke="#1e1e1e" stroke-width="1.35" fill="none" />
<path d="M327.4,494.7 L329.6,492.6 L334,496.8 L338.4,492.6 L342.8,496.8 L347.2,492.6 L349.4,494.7" stroke="#2a2ad6" stroke-width="1.15" fill="none" />
<path d="M349.4,494.7 L358.4,494.7" stroke="#1e1e1e" stroke-width="1.35" fill="none" />
<circle cx="360.3" cy="494.7" r="1.7" fill="none" stroke="#b42824" stroke-width="1.1"/>
<text x="336.1" y="485.68" font-family="Liberation Serif" font-size="7.0" font-weight="bold" fill="#18185a" text-anchor="start" textLength="14.1" lengthAdjust="spacingAndGlyphs"  stroke="#18185a" stroke-width="0.18">31K6</text>
<text x="363.4" y="497.15" font-family="Liberation Serif" font-size="7.2" font-weight="normal" fill="#b42824" text-anchor="start" textLength="12" lengthAdjust="spacingAndGlyphs"  stroke="#b42824" stroke-width="0.18">+5V</text>
<path d="M362.8,419.6 H382.8 A10.2,10.1 0 0 1 382.8,439.8 H362.8 Z" fill="none" stroke="#1e1ee0" stroke-width="1.3"/>
<circle cx="394.7" cy="429.7" r="1.7" fill="none" stroke="#1e1ee0" stroke-width="1.2"/>
<text x="353.2" y="421.21" font-family="Liberation Serif" font-size="6.8" font-weight="normal" fill="#8c2818" text-anchor="start" textLength="6.4" lengthAdjust="spacingAndGlyphs"  stroke="#8c2818" stroke-width="0.12">10</text>
<text x="354.8" y="435.21" font-family="Liberation Serif" font-size="6.8" font-weight="normal" fill="#8c2818" text-anchor="start"  stroke="#8c2818" stroke-width="0.12">9</text>
<text x="398.2" y="428.41" font-family="Liberation Serif" font-size="6.8" font-weight="normal" fill="#8c2818" text-anchor="start"  stroke="#8c2818" stroke-width="0.12">8</text>
<text x="370.4" y="418.68" font-family="Liberation Serif" font-size="7.0" font-weight="bold" fill="#18185a" text-anchor="start" textLength="13.6" lengthAdjust="spacingAndGlyphs"  stroke="#18185a" stroke-width="0.18">D101</text>
<text x="370.6" y="445.48" font-family="Liberation Serif" font-size="7.0" font-weight="bold" fill="#18185a" text-anchor="start" textLength="20.6" lengthAdjust="spacingAndGlyphs"  stroke="#18185a" stroke-width="0.18">74HC00</text>
<path d="M396.4,429.9 L442.4,429.9" stroke="#24246e" stroke-width="1.35" fill="none" />
<text x="442.5" y="385.58" font-family="Liberation Serif" font-size="7.0" font-weight="bold" fill="#18185a" text-anchor="start" textLength="13.6" lengthAdjust="spacingAndGlyphs"  stroke="#18185a" stroke-width="0.18">D311</text>
<text x="442.4" y="391.98" font-family="Liberation Serif" font-size="7.0" font-weight="bold" fill="#18185a" text-anchor="start" textLength="34.6" lengthAdjust="spacingAndGlyphs"  stroke="#18185a" stroke-width="0.18">74HC423M-2</text>
<rect x="442.4" y="394" width="43.1" height="43.1" fill="#FFFFA6" stroke="#923a1c" stroke-width="1.4"/>
<text x="446.1" y="402.91" font-family="Liberation Serif" font-size="6.5" font-weight="bold" fill="#1a1a08" text-anchor="start" textLength="12.1" lengthAdjust="spacingAndGlyphs"  stroke="#1a1a08" stroke-width="0.18">CLR</text>
<text x="446.9" y="417.61" font-family="Liberation Serif" font-size="6.5" font-weight="bold" fill="#1a1a08" text-anchor="start"  stroke="#1a1a08" stroke-width="0.18">B</text>
<text x="446.2" y="431.41" font-family="Liberation Serif" font-size="6.5" font-weight="bold" fill="#1a1a08" text-anchor="start"  stroke="#1a1a08" stroke-width="0.18">A</text>
<path d="M446.3,426 L451,426" stroke="#1a1a08" stroke-width="0.8" fill="none" />
<text transform="translate(456,429.2) rotate(-90)" x="0" y="2.04" text-anchor="middle" font-family="Liberation Serif" font-size="6.0" font-weight="bold" fill="#1a1a08" textLength="6.4" lengthAdjust="spacingAndGlyphs">Cx</text>
<text transform="translate(469.9,424.2) rotate(-90)" x="0" y="2.04" text-anchor="middle" font-family="Liberation Serif" font-size="6.0" font-weight="bold" fill="#1a1a08" textLength="15.6" lengthAdjust="spacingAndGlyphs">RxCx</text>
<text x="476" y="410.71" font-family="Liberation Serif" font-size="6.5" font-weight="bold" fill="#1a1a08" text-anchor="start"  stroke="#1a1a08" stroke-width="0.18">Q</text>
<path d="M476.2,404.3 L480.9,404.3" stroke="#1a1a08" stroke-width="0.8" fill="none" />
<text x="476" y="424.81" font-family="Liberation Serif" font-size="6.5" font-weight="bold" fill="#1a1a08" text-anchor="start"  stroke="#1a1a08" stroke-width="0.18">Q</text>
<text x="434.4" y="399.41" font-family="Liberation Serif" font-size="6.8" font-weight="normal" fill="#8c2818" text-anchor="start" textLength="6.4" lengthAdjust="spacingAndGlyphs"  stroke="#8c2818" stroke-width="0.12">11</text>
<text x="434.4" y="414.21" font-family="Liberation Serif" font-size="6.8" font-weight="normal" fill="#8c2818" text-anchor="start" textLength="6.4" lengthAdjust="spacingAndGlyphs"  stroke="#8c2818" stroke-width="0.12">10</text>
<text x="434.6" y="428.41" font-family="Liberation Serif" font-size="6.8" font-weight="normal" fill="#8c2818" text-anchor="start"  stroke="#8c2818" stroke-width="0.12">9</text>
<text x="486.6" y="406.01" font-family="Liberation Serif" font-size="6.8" font-weight="normal" fill="#8c2818" text-anchor="start" textLength="6.4" lengthAdjust="spacingAndGlyphs"  stroke="#8c2818" stroke-width="0.12">12</text>
<text x="486.4" y="420.51" font-family="Liberation Serif" font-size="6.8" font-weight="normal" fill="#8c2818" text-anchor="start"  stroke="#8c2818" stroke-width="0.12">5</text>
<text x="407.7" y="417.95" font-family="Liberation Serif" font-size="7.2" font-weight="normal" fill="#b42824" text-anchor="start" textLength="11" lengthAdjust="spacingAndGlyphs"  stroke="#b42824" stroke-width="0.18">+5V</text>
<circle cx="422.7" cy="415.7" r="1.7" fill="none" stroke="#b42824" stroke-width="1.1"/>
<path d="M424.5,415.7 L442.4,415.7" stroke="#1e1e1e" stroke-width="1.35" fill="none" />
<path d="M406.4,400.8 L442.4,400.8" stroke="#24246e" stroke-width="1.35" fill="none" />
<text x="448.8" y="443.81" font-family="Liberation Serif" font-size="6.8" font-weight="normal" fill="#8c2818" text-anchor="start"  stroke="#8c2818" stroke-width="0.12">6</text>
<text x="463.2" y="443.81" font-family="Liberation Serif" font-size="6.8" font-weight="normal" fill="#8c2818" text-anchor="start"  stroke="#8c2818" stroke-width="0.12">7</text>
<path d="M456.5,437.1 L456.5,445.2 L449.3,445.2 L449.3,451.8" stroke="#1e1e1e" stroke-width="1.35" fill="none" />
<path d="M449.3,451.8 L449.3,458.3" stroke="#7a1a1a" stroke-width="1.35" fill="none" />
<path d="M444.55,458.3 H454.05" stroke="#c02424" stroke-width="1.5" fill="none"/>
<path d="M449.3,451.8 L458.1,451.8" stroke="#1e1e1e" stroke-width="1.35" fill="none" />
<path d="M458.1,445.7 V457.9 M461.9,445.7 V457.9" stroke="#1e1ee0" stroke-width="1.4" fill="none"/>
<path d="M461.9,451.8 L470.9,451.8" stroke="#1e1e1e" stroke-width="1.35" fill="none" />
<path d="M470.9,437.1 L470.9,451.8" stroke="#1e1e1e" stroke-width="1.35" fill="none" />
<path d="M470.9,451.8 L470.9,459.3" stroke="#1e1e1e" stroke-width="1.35" fill="none" />
<path d="M470.9,459.3 L468.8,461.5 L473,465.9 L468.8,470.3 L473,474.7 L468.8,479.1 L470.9,481.3" stroke="#2a2ad6" stroke-width="1.15" fill="none" />
<path d="M470.9,481.3 L470.9,490.2" stroke="#1e1e1e" stroke-width="1.35" fill="none" />
<circle cx="470.9" cy="492" r="1.7" fill="none" stroke="#b42824" stroke-width="1.1"/>
<text x="465" y="501.15" font-family="Liberation Serif" font-size="7.2" font-weight="normal" fill="#b42824" text-anchor="start" textLength="10.6" lengthAdjust="spacingAndGlyphs"  stroke="#b42824" stroke-width="0.18">+5V</text>
<text x="473.4" y="468.68" font-family="Liberation Serif" font-size="7.0" font-weight="bold" fill="#18185a" text-anchor="start" textLength="12.7" lengthAdjust="spacingAndGlyphs"  stroke="#18185a" stroke-width="0.18">31K6</text>
<path d="M485.5,422.3 L506.6,422.3" stroke="#24246e" stroke-width="1.35" fill="none" />
<path d="M485.5,408 L499.9,408 L499.9,516.3 L276.7,516.3 L276.7,458.3 L283.5,458.3" stroke="#24246e" stroke-width="1.35" fill="none" />
<path d="M506.6,422.3 L506.6,436.9 L517.6,436.9 L517.6,422.3" stroke="#3a3a3a" stroke-width="1.35" fill="none" />
<path d="M521.5,421.5 L521.5,425.1" stroke="#1e1ee0" stroke-width="1.7" fill="none" />
<path d="M521.5,427.4 L521.5,432.2" stroke="#1e1ee0" stroke-width="1.7" fill="none" />
<path d="M521.5,434.9 L521.5,438.9" stroke="#1e1ee0" stroke-width="1.7" fill="none" />
<path d="M521.5,424.3 L528.2,424.3" stroke="#1e1ee0" stroke-width="1.35" fill="none" />
<path d="M521.5,429.8 L528.2,429.8" stroke="#1e1ee0" stroke-width="1.35" fill="none" />
<path d="M521.5,436.9 L528.2,436.9" stroke="#1e1ee0" stroke-width="1.35" fill="none" />
<path d="M522,429.8 l3,-2 v4 z" fill="#1e1ee0"/>
<path d="M528.2,429.8 L528.2,438.5" stroke="#1e1ee0" stroke-width="1.35" fill="none" />
<path d="M528.2,421.1 L535.3,421.1 L535.3,438.5 L528.2,438.5" stroke="#1e1ee0" stroke-width="1.35" fill="none" />
<path d="M531.6,431.9 H539 L535.3,426.9 Z" fill="#1e1ee0"/>
<path d="M531.6,426.7 L539,426.7" stroke="#1e1ee0" stroke-width="1.3" fill="none" />
<path d="M528.2,415.6 L528.2,424.3" stroke="#1e1e1e" stroke-width="1.35" fill="none" />
<path d="M528.2,438.5 L528.2,451.6" stroke="#7a1a1a" stroke-width="1.35" fill="none" />
<path d="M524.6,451.6 H532.6" stroke="#c02424" stroke-width="1.5" fill="none"/>
<circle cx="556.8" cy="415.2" r="14.1" fill="none" stroke="#1e1ee0" stroke-width="1.5"/>
<path d="M528.2,415.6 L554,415.6" stroke="#1e1e1e" stroke-width="1.35" fill="none" />
<path d="M554,402.9 L554,429.3" stroke="#1e1ee0" stroke-width="2.6" fill="none" />
<path d="M554,411.5 L564.2,402.8 L564.2,401.8" stroke="#1e1ee0" stroke-width="1.4" fill="none" />
<path d="M564.2,401.8 L564.2,379.7" stroke="#24246e" stroke-width="1.35" fill="none" />
<path d="M554,419.3 L564.2,427.8 L564.2,428.8" stroke="#1e1ee0" stroke-width="1.4" fill="none" />
<path d="M564.2,428.8 L564.2,436.9" stroke="#24246e" stroke-width="1.35" fill="none" />
<path d="M557,409.1 L563.6,406.4 L560.6,402.6 Z" fill="#1e1ee0"/>
<path d="M528.2,415.6 L528.2,409.5" stroke="#1e1e1e" stroke-width="1.35" fill="none" />
<path d="M528.2,409.5 L526.1,407.3 L530.3,402.9 L526.1,398.5 L530.3,394.1 L526.1,389.7 L528.2,387.5" stroke="#2a2ad6" stroke-width="1.15" fill="none" />
<path d="M528.2,387.5 L528.2,379.7 L564.2,379.7" stroke="#24246e" stroke-width="1.35" fill="none" />
<path d="M564.2,379.7 L567.8,379.7" stroke="#1e1e1e" stroke-width="1.35" fill="none" />
<circle cx="569.8" cy="379.7" r="2.1" fill="none" stroke="#b42824" stroke-width="1.1"/>
<text x="573" y="381.95" font-family="Liberation Serif" font-size="7.2" font-weight="normal" fill="#b42824" text-anchor="start" textLength="14.4" lengthAdjust="spacingAndGlyphs"  stroke="#b42824" stroke-width="0.18">+12V</text>
<text x="530.4" y="399.68" font-family="Liberation Serif" font-size="7.0" font-weight="bold" fill="#18185a" text-anchor="start" textLength="10.6" lengthAdjust="spacingAndGlyphs"  stroke="#18185a" stroke-width="0.18">2K2</text>
<text x="571" y="414.68" font-family="Liberation Serif" font-size="7.0" font-weight="bold" fill="#18185a" text-anchor="start" textLength="14.4" lengthAdjust="spacingAndGlyphs"  stroke="#18185a" stroke-width="0.18">V313</text>
<text x="538.8" y="434.48" font-family="Liberation Serif" font-size="7.0" font-weight="bold" fill="#18185a" text-anchor="start" textLength="13.2" lengthAdjust="spacingAndGlyphs"  stroke="#18185a" stroke-width="0.18">V312</text>
<path d="M564.3,436.9 L564.3,508.9" stroke="#2a1018" stroke-width="1.35" fill="none" />
<path d="M600.5,436.9 L600.5,508.9" stroke="#2a1018" stroke-width="1.35" fill="none" />
<path d="M564.2,436.9 L571.5,436.9" stroke="#3a2a2a" stroke-width="1.35" fill="none" />
<path d="M571.5,436.9 L573.7,434.8 L578.1,439 L582.5,434.8 L586.9,439 L591.3,434.8 L593.5,436.9" stroke="#2a2ad6" stroke-width="1.15" fill="none" />
<path d="M593.5,436.9 L600.5,436.9" stroke="#3a2a2a" stroke-width="1.35" fill="none" />
<text x="571.6" y="445.35" font-family="Liberation Serif" font-size="6.9" font-weight="bold" fill="#18185a" text-anchor="start" textLength="13.6" lengthAdjust="spacingAndGlyphs"  stroke="#18185a" stroke-width="0.18">120R</text>
<path d="M564.2,451.3 L571.5,451.3" stroke="#3a2a2a" stroke-width="1.35" fill="none" />
<path d="M571.5,451.3 L573.7,449.2 L578.1,453.4 L582.5,449.2 L586.9,453.4 L591.3,449.2 L593.5,451.3" stroke="#2a2ad6" stroke-width="1.15" fill="none" />
<path d="M593.5,451.3 L600.5,451.3" stroke="#3a2a2a" stroke-width="1.35" fill="none" />
<text x="571.6" y="459.75" font-family="Liberation Serif" font-size="6.9" font-weight="bold" fill="#18185a" text-anchor="start" textLength="13.6" lengthAdjust="spacingAndGlyphs"  stroke="#18185a" stroke-width="0.18">120R</text>
<path d="M564.2,465.7 L571.5,465.7" stroke="#3a2a2a" stroke-width="1.35" fill="none" />
<path d="M571.5,465.7 L573.7,463.6 L578.1,467.8 L582.5,463.6 L586.9,467.8 L591.3,463.6 L593.5,465.7" stroke="#2a2ad6" stroke-width="1.15" fill="none" />
<path d="M593.5,465.7 L600.5,465.7" stroke="#3a2a2a" stroke-width="1.35" fill="none" />
<text x="571.6" y="474.15" font-family="Liberation Serif" font-size="6.9" font-weight="bold" fill="#18185a" text-anchor="start" textLength="13.6" lengthAdjust="spacingAndGlyphs"  stroke="#18185a" stroke-width="0.18">120R</text>
<path d="M564.2,480.1 L571.5,480.1" stroke="#3a2a2a" stroke-width="1.35" fill="none" />
<path d="M571.5,480.1 L573.7,478 L578.1,482.2 L582.5,478 L586.9,482.2 L591.3,478 L593.5,480.1" stroke="#2a2ad6" stroke-width="1.15" fill="none" />
<path d="M593.5,480.1 L600.5,480.1" stroke="#3a2a2a" stroke-width="1.35" fill="none" />
<text x="571.6" y="488.55" font-family="Liberation Serif" font-size="6.9" font-weight="bold" fill="#18185a" text-anchor="start" textLength="13.6" lengthAdjust="spacingAndGlyphs"  stroke="#18185a" stroke-width="0.18">120R</text>
<path d="M564.2,494.5 L571.5,494.5" stroke="#3a2a2a" stroke-width="1.35" fill="none" />
<path d="M571.5,494.5 L573.7,492.4 L578.1,496.6 L582.5,492.4 L586.9,496.6 L591.3,492.4 L593.5,494.5" stroke="#2a2ad6" stroke-width="1.15" fill="none" />
<path d="M593.5,494.5 L600.5,494.5" stroke="#3a2a2a" stroke-width="1.35" fill="none" />
<text x="571.6" y="502.95" font-family="Liberation Serif" font-size="6.9" font-weight="bold" fill="#18185a" text-anchor="start" textLength="13.6" lengthAdjust="spacingAndGlyphs"  stroke="#18185a" stroke-width="0.18">120R</text>
<path d="M564.2,508.9 L571.5,508.9" stroke="#3a2a2a" stroke-width="1.35" fill="none" />
<path d="M571.5,508.9 L573.7,506.8 L578.1,511 L582.5,506.8 L586.9,511 L591.3,506.8 L593.5,508.9" stroke="#2a2ad6" stroke-width="1.15" fill="none" />
<path d="M593.5,508.9 L600.5,508.9" stroke="#3a2a2a" stroke-width="1.35" fill="none" />
<text x="571.6" y="517.35" font-family="Liberation Serif" font-size="6.9" font-weight="bold" fill="#18185a" text-anchor="start" textLength="13.6" lengthAdjust="spacingAndGlyphs"  stroke="#18185a" stroke-width="0.18">120R</text>
<path d="M600.5,436.9 L643.9,436.9" stroke="#24246e" stroke-width="1.35" fill="none" />
<path d="M622.2,436.9 L622.2,442.5" stroke="#1e1e1e" stroke-width="1.35" fill="none" />
<path d="M622.2,442.5 L620.1,444.8 L624.3,449.4 L620.1,454 L624.3,458.6 L620.1,463.2 L622.2,465.5" stroke="#2a2ad6" stroke-width="1.15" fill="none" />
<path d="M622.2,465.5 L622.2,473.6" stroke="#1e1e1e" stroke-width="1.35" fill="none" />
<path d="M643.9,436.9 L643.9,442.5" stroke="#1e1e1e" stroke-width="1.35" fill="none" />
<path d="M643.9,442.5 L641.8,444.8 L646,449.4 L641.8,454 L646,458.6 L641.8,463.2 L643.9,465.5" stroke="#2a2ad6" stroke-width="1.15" fill="none" />
<path d="M643.9,465.5 L643.9,473.6" stroke="#1e1e1e" stroke-width="1.35" fill="none" />
<text x="624.6" y="450.88" font-family="Liberation Serif" font-size="7.0" font-weight="bold" fill="#18185a" text-anchor="start" textLength="13" lengthAdjust="spacingAndGlyphs"  stroke="#18185a" stroke-width="0.18">470R</text>
<text x="645.9" y="450.88" font-family="Liberation Serif" font-size="7.0" font-weight="bold" fill="#18185a" text-anchor="start" textLength="13.6" lengthAdjust="spacingAndGlyphs"  stroke="#18185a" stroke-width="0.18">470R</text>
<path d="M53.5,112.4 L60.4,112.4" stroke="#24246e" stroke-width="1.35" fill="none" />
<path d="M60.4,112.4 L62.6,114.5 L67,110.3 L71.4,114.5 L75.8,110.3 L80.2,114.5 L82.4,112.4" stroke="#2a2ad6" stroke-width="1.15" fill="none" />
<path d="M82.4,112.4 L96,112.4" stroke="#24246e" stroke-width="1.35" fill="none" />
<path d="M96,112.4 L98.2,114.5 L102.6,110.3 L107,114.5 L111.4,110.3 L115.8,114.5 L118,112.4" stroke="#2a2ad6" stroke-width="1.15" fill="none" />
<path d="M118,112.4 L132.7,112.4" stroke="#24246e" stroke-width="1.35" fill="none" />
<path d="M132.7,112.4 L134.9,114.5 L139.3,110.3 L143.7,114.5 L148.1,110.3 L152.5,114.5 L154.7,112.4" stroke="#2a2ad6" stroke-width="1.15" fill="none" />
<path d="M154.7,112.4 L169,112.4" stroke="#24246e" stroke-width="1.35" fill="none" />
<path d="M169,112.4 L171.2,114.5 L175.6,110.3 L180,114.5 L184.4,110.3 L188.8,114.5 L191,112.4" stroke="#2a2ad6" stroke-width="1.15" fill="none" />
<path d="M191,112.4 L197.4,112.4" stroke="#24246e" stroke-width="1.35" fill="none" />
<text x="67.3" y="119.98" font-family="Liberation Serif" font-size="7.0" font-weight="bold" fill="#18185a" text-anchor="start" textLength="14" lengthAdjust="spacingAndGlyphs"  stroke="#18185a" stroke-width="0.18">200K</text>
<text x="96" y="119.98" font-family="Liberation Serif" font-size="7.0" font-weight="bold" fill="#18185a" text-anchor="start" textLength="14" lengthAdjust="spacingAndGlyphs"  stroke="#18185a" stroke-width="0.18">200K</text>
<text x="132.5" y="119.98" font-family="Liberation Serif" font-size="7.0" font-weight="bold" fill="#18185a" text-anchor="start" textLength="14" lengthAdjust="spacingAndGlyphs"  stroke="#18185a" stroke-width="0.18">200K</text>
<text x="168.6" y="119.98" font-family="Liberation Serif" font-size="7.0" font-weight="bold" fill="#18185a" text-anchor="start" textLength="14" lengthAdjust="spacingAndGlyphs"  stroke="#18185a" stroke-width="0.18">200K</text>
<path d="M53.5,112.4 L53.5,119.6" stroke="#24246e" stroke-width="1.35" fill="none" />
<path d="M53.5,119.6 L51.4,121.8 L55.6,126.2 L51.4,130.6 L55.6,135 L51.4,139.4 L53.5,141.6" stroke="#2a2ad6" stroke-width="1.15" fill="none" />
<path d="M53.5,141.6 L53.5,155.5" stroke="#24246e" stroke-width="1.35" fill="none" />
<path d="M53.5,155.5 L51.4,157.7 L55.6,162.1 L51.4,166.5 L55.6,170.9 L51.4,175.3 L53.5,177.5" stroke="#2a2ad6" stroke-width="1.15" fill="none" />
<path d="M53.5,177.5 L53.5,191" stroke="#24246e" stroke-width="1.35" fill="none" />
<path d="M53.5,191 L51.4,193.2 L55.6,197.6 L51.4,202 L55.6,206.4 L51.4,210.8 L53.5,213" stroke="#2a2ad6" stroke-width="1.15" fill="none" />
<path d="M53.5,213 L53.5,241.9" stroke="#24246e" stroke-width="1.35" fill="none" />
<text x="55.3" y="131.98" font-family="Liberation Serif" font-size="7.0" font-weight="bold" fill="#18185a" text-anchor="start" textLength="13.4" lengthAdjust="spacingAndGlyphs"  stroke="#18185a" stroke-width="0.18">200K</text>
<text x="55.3" y="168.18" font-family="Liberation Serif" font-size="7.0" font-weight="bold" fill="#18185a" text-anchor="start" textLength="13.4" lengthAdjust="spacingAndGlyphs"  stroke="#18185a" stroke-width="0.18">200K</text>
<text x="55.3" y="196.98" font-family="Liberation Serif" font-size="7.0" font-weight="bold" fill="#18185a" text-anchor="start" textLength="13.4" lengthAdjust="spacingAndGlyphs"  stroke="#18185a" stroke-width="0.18">200K</text>
<rect x="31.8" y="235.4" width="14.7" height="71.6" fill="#FFFFA6" stroke="#923a1c" stroke-width="1.4"/>
<text x="31.5" y="233.14" font-family="Liberation Serif" font-size="6.6" font-weight="bold" fill="#18185a" text-anchor="start" textLength="8" lengthAdjust="spacingAndGlyphs"  stroke="#18185a" stroke-width="0.18">X4</text>
<text x="39.2" y="244.21" font-family="Liberation Serif" font-size="6.8" font-weight="bold" fill="#1a1a08" text-anchor="middle"  stroke="#1a1a08" stroke-width="0.18">1</text>
<text x="39.2" y="251.41" font-family="Liberation Serif" font-size="6.8" font-weight="bold" fill="#1a1a08" text-anchor="middle"  stroke="#1a1a08" stroke-width="0.18">2</text>
<path d="M46.5,249.1 L53.8,249.1" stroke="#1e1e1e" stroke-width="1.35" fill="none" />
<text x="39.2" y="258.61" font-family="Liberation Serif" font-size="6.8" font-weight="bold" fill="#1a1a08" text-anchor="middle"  stroke="#1a1a08" stroke-width="0.18">3</text>
<path d="M46.5,256.3 L53.8,256.3" stroke="#1e1e1e" stroke-width="1.35" fill="none" />
<text x="39.2" y="265.81" font-family="Liberation Serif" font-size="6.8" font-weight="bold" fill="#1a1a08" text-anchor="middle"  stroke="#1a1a08" stroke-width="0.18">4</text>
<path d="M46.5,263.5 L53.8,263.5" stroke="#1e1e1e" stroke-width="1.35" fill="none" />
<text x="39.2" y="273.01" font-family="Liberation Serif" font-size="6.8" font-weight="bold" fill="#1a1a08" text-anchor="middle"  stroke="#1a1a08" stroke-width="0.18">5</text>
<text x="39.2" y="280.21" font-family="Liberation Serif" font-size="6.8" font-weight="bold" fill="#1a1a08" text-anchor="middle"  stroke="#1a1a08" stroke-width="0.18">6</text>
<path d="M46.5,277.9 L53.8,277.9" stroke="#1e1e1e" stroke-width="1.35" fill="none" />
<text x="39.2" y="287.41" font-family="Liberation Serif" font-size="6.8" font-weight="bold" fill="#1a1a08" text-anchor="middle"  stroke="#1a1a08" stroke-width="0.18">7</text>
<path d="M46.5,285.1 L53.8,285.1" stroke="#1e1e1e" stroke-width="1.35" fill="none" />
<text x="39.2" y="294.61" font-family="Liberation Serif" font-size="6.8" font-weight="bold" fill="#1a1a08" text-anchor="middle"  stroke="#1a1a08" stroke-width="0.18">8</text>
<path d="M46.5,292.3 L53.8,292.3" stroke="#1e1e1e" stroke-width="1.35" fill="none" />
<text x="39.2" y="301.81" font-family="Liberation Serif" font-size="6.8" font-weight="bold" fill="#1a1a08" text-anchor="middle"  stroke="#1a1a08" stroke-width="0.18">9</text>
<path d="M46.5,241.9 L53.5,241.9" stroke="#1e1e1e" stroke-width="1.35" fill="none" />
<path d="M46.5,299.5 L53.5,299.5" stroke="#1e1e1e" stroke-width="1.35" fill="none" />
<path d="M46.5,270.7 L61.4,270.7" stroke="#1e1e1e" stroke-width="1.35" fill="none" />
<path d="M61.4,270.7 L63.6,272.8 L68,268.6 L72.4,272.8 L76.8,268.6 L81.2,272.8 L83.4,270.7" stroke="#2a2ad6" stroke-width="1.15" fill="none" />
<path d="M83.4,270.7 L89.2,270.7 L89.2,264" stroke="#24246e" stroke-width="1.35" fill="none" />
<path d="M89.2,264 L87.1,261.8 L91.3,257.4 L87.1,253 L91.3,248.6 L87.1,244.2 L89.2,242" stroke="#2a2ad6" stroke-width="1.15" fill="none" />
<path d="M89.2,242 L89.2,227.5 L95.1,227.5" stroke="#24246e" stroke-width="1.35" fill="none" />
<path d="M95.1,227.5 L97.3,229.6 L101.7,225.4 L106.1,229.6 L110.5,225.4 L114.9,229.6 L117.1,227.5" stroke="#2a2ad6" stroke-width="1.15" fill="none" />
<path d="M117.1,227.5 L125.5,227.5 L125.5,234.6" stroke="#24246e" stroke-width="1.35" fill="none" />
<path d="M125.5,234.6 L123.4,236.8 L127.6,241.2 L123.4,245.6 L127.6,250 L123.4,254.4 L125.5,256.6" stroke="#2a2ad6" stroke-width="1.15" fill="none" />
<path d="M125.5,256.6 L125.5,263.9" stroke="#24246e" stroke-width="1.35" fill="none" />
<path d="M125.5,263.9 L132.8,263.9" stroke="#24246e" stroke-width="1.35" fill="none" />
<path d="M132.8,263.9 L135,266 L139.4,261.8 L143.8,266 L148.2,261.8 L152.6,266 L154.8,263.9" stroke="#2a2ad6" stroke-width="1.15" fill="none" />
<path d="M154.8,263.9 L168.2,263.9" stroke="#24246e" stroke-width="1.35" fill="none" />
<path d="M168.2,263.9 L170.4,266 L174.8,261.8 L179.2,266 L183.6,261.8 L188,266 L190.2,263.9" stroke="#2a2ad6" stroke-width="1.15" fill="none" />
<path d="M190.2,263.9 L197.4,263.9" stroke="#24246e" stroke-width="1.35" fill="none" />
<text x="60.5" y="279.18" font-family="Liberation Serif" font-size="7.0" font-weight="bold" fill="#18185a" text-anchor="start" textLength="13.5" lengthAdjust="spacingAndGlyphs"  stroke="#18185a" stroke-width="0.18">200K</text>
<text x="90.9" y="255.58" font-family="Liberation Serif" font-size="7.0" font-weight="bold" fill="#18185a" text-anchor="start" textLength="14.3" lengthAdjust="spacingAndGlyphs"  stroke="#18185a" stroke-width="0.18">200K</text>
<text x="103.5" y="221.28" font-family="Liberation Serif" font-size="7.0" font-weight="bold" fill="#18185a" text-anchor="start" textLength="13.5" lengthAdjust="spacingAndGlyphs"  stroke="#18185a" stroke-width="0.18">200K</text>
<text x="127.2" y="247.98" font-family="Liberation Serif" font-size="7.0" font-weight="bold" fill="#18185a" text-anchor="start" textLength="14" lengthAdjust="spacingAndGlyphs"  stroke="#18185a" stroke-width="0.18">200K</text>
<text x="132" y="272.38" font-family="Liberation Serif" font-size="7.0" font-weight="bold" fill="#18185a" text-anchor="start" textLength="14.3" lengthAdjust="spacingAndGlyphs"  stroke="#18185a" stroke-width="0.18">200K</text>
<text x="168.2" y="272.38" font-family="Liberation Serif" font-size="7.0" font-weight="bold" fill="#18185a" text-anchor="start" textLength="14.4" lengthAdjust="spacingAndGlyphs"  stroke="#18185a" stroke-width="0.18">200K</text>
<path d="M53.5,299.5 L53.5,314.6" stroke="#24246e" stroke-width="1.35" fill="none" />
<path d="M53.5,314.6 L51.4,316.8 L55.6,321.2 L51.4,325.6 L55.6,330 L51.4,334.4 L53.5,336.6" stroke="#2a2ad6" stroke-width="1.15" fill="none" />
<path d="M53.5,336.6 L53.5,351" stroke="#24246e" stroke-width="1.35" fill="none" />
<path d="M53.5,351 L51.4,353.2 L55.6,357.6 L51.4,362 L55.6,366.4 L51.4,370.8 L53.5,373" stroke="#2a2ad6" stroke-width="1.15" fill="none" />
<path d="M53.5,373 L53.5,387" stroke="#24246e" stroke-width="1.35" fill="none" />
<path d="M53.5,387 L51.4,389.2 L55.6,393.6 L51.4,398 L55.6,402.4 L51.4,406.8 L53.5,409" stroke="#2a2ad6" stroke-width="1.15" fill="none" />
<path d="M53.5,409 L53.5,415.4" stroke="#24246e" stroke-width="1.35" fill="none" />
<text x="54.8" y="320.58" font-family="Liberation Serif" font-size="7.0" font-weight="bold" fill="#18185a" text-anchor="start" textLength="14.2" lengthAdjust="spacingAndGlyphs"  stroke="#18185a" stroke-width="0.18">200K</text>
<text x="54.6" y="356.58" font-family="Liberation Serif" font-size="7.0" font-weight="bold" fill="#18185a" text-anchor="start" textLength="14.8" lengthAdjust="spacingAndGlyphs"  stroke="#18185a" stroke-width="0.18">200K</text>
<text x="54.6" y="392.18" font-family="Liberation Serif" font-size="7.0" font-weight="bold" fill="#18185a" text-anchor="start" textLength="12.2" lengthAdjust="spacingAndGlyphs"  stroke="#18185a" stroke-width="0.18">10K</text>
<path d="M53.5,415.4 L61,415.4" stroke="#24246e" stroke-width="1.35" fill="none" />
<path d="M61,415.4 L63.2,413.3 L67.6,417.5 L72,413.3 L76.4,417.5 L80.8,413.3 L83,415.4" stroke="#2a2ad6" stroke-width="1.15" fill="none" />
<path d="M83,415.4 L96.6,415.4" stroke="#24246e" stroke-width="1.35" fill="none" />
<path d="M96.6,415.4 L98.8,413.3 L103.2,417.5 L107.6,413.3 L112,417.5 L116.4,413.3 L118.6,415.4" stroke="#2a2ad6" stroke-width="1.15" fill="none" />
<path d="M118.6,415.4 L133.2,415.4" stroke="#24246e" stroke-width="1.35" fill="none" />
<path d="M133.2,415.4 L135.4,413.3 L139.8,417.5 L144.2,413.3 L148.6,417.5 L153,413.3 L155.2,415.4" stroke="#2a2ad6" stroke-width="1.15" fill="none" />
<path d="M155.2,415.4 L168.5,415.4" stroke="#24246e" stroke-width="1.35" fill="none" />
<path d="M168.5,415.4 L170.7,413.3 L175.1,417.5 L179.5,413.3 L183.9,417.5 L188.3,413.3 L190.5,415.4" stroke="#2a2ad6" stroke-width="1.15" fill="none" />
<path d="M190.5,415.4 L197.4,415.4" stroke="#24246e" stroke-width="1.35" fill="none" />
<text x="60" y="423.58" font-family="Liberation Serif" font-size="7.0" font-weight="bold" fill="#18185a" text-anchor="start" textLength="15" lengthAdjust="spacingAndGlyphs"  stroke="#18185a" stroke-width="0.18">200K</text>
<text x="96" y="423.58" font-family="Liberation Serif" font-size="7.0" font-weight="bold" fill="#18185a" text-anchor="start" textLength="14.7" lengthAdjust="spacingAndGlyphs"  stroke="#18185a" stroke-width="0.18">200K</text>
<text x="131.9" y="423.58" font-family="Liberation Serif" font-size="7.0" font-weight="bold" fill="#18185a" text-anchor="start" textLength="14.2" lengthAdjust="spacingAndGlyphs"  stroke="#18185a" stroke-width="0.18">200K</text>
<text x="167.8" y="423.58" font-family="Liberation Serif" font-size="7.0" font-weight="bold" fill="#18185a" text-anchor="start" textLength="14.3" lengthAdjust="spacingAndGlyphs"  stroke="#18185a" stroke-width="0.18">200K</text>
<text x="141.1" y="161.25" font-family="Liberation Serif" font-size="7.2" font-weight="normal" fill="#b42824" text-anchor="start" textLength="11" lengthAdjust="spacingAndGlyphs"  stroke="#b42824" stroke-width="0.18">+5V</text>
<circle cx="147" cy="164.9" r="1.7" fill="none" stroke="#b42824" stroke-width="1.1"/>
<path d="M147,166.6 L147,169.8 L153.9,169.8" stroke="#1e1e1e" stroke-width="1.35" fill="none" />
<path d="M153.9,169.8 L156.06,171.9 L160.38,167.7 L164.7,171.9 L169.02,167.7 L173.34,171.9 L175.5,169.8" stroke="#2a2ad6" stroke-width="1.15" fill="none" />
<path d="M175.5,169.8 L219.1,169.8" stroke="#24246e" stroke-width="1.35" fill="none" />
<text x="153.9" y="178.18" font-family="Liberation Serif" font-size="7.0" font-weight="bold" fill="#18185a" text-anchor="start" textLength="10.4" lengthAdjust="spacingAndGlyphs"  stroke="#18185a" stroke-width="0.18">2K7</text>
<path d="M183.2,169.8 L183.2,177.4" stroke="#1e1e1e" stroke-width="1.35" fill="none" />
<path d="M183.2,177.4 L181.1,179.54 L185.3,183.82 L181.1,188.1 L185.3,192.38 L181.1,196.66 L183.2,198.8" stroke="#2a2ad6" stroke-width="1.15" fill="none" />
<path d="M183.2,198.8 L183.2,206.2 L204.6,206.2" stroke="#1e1e1e" stroke-width="1.35" fill="none" />
<text x="185.1" y="183.48" font-family="Liberation Serif" font-size="7.0" font-weight="bold" fill="#18185a" text-anchor="start" textLength="10.3" lengthAdjust="spacingAndGlyphs"  stroke="#18185a" stroke-width="0.18">10K</text>
<path d="M204.6,169.8 L204.6,186.4" stroke="#1e1e1e" stroke-width="1.35" fill="none" />
<path d="M197.9,186.4 H211.3 M197.9,189.3 H211.3" stroke="#1e1ee0" stroke-width="1.4" fill="none"/>
<path d="M204.6,189.3 L204.6,206.2" stroke="#1e1e1e" stroke-width="1.35" fill="none" />
<path d="M204.6,206.2 L204.6,213.2" stroke="#7a1a1a" stroke-width="1.35" fill="none" />
<path d="M202,213 H207.6" stroke="#c02424" stroke-width="1.5" fill="none"/>
<path d="M219.1,126.4 L219.1,429.6" stroke="#24246e" stroke-width="1.35" fill="none" />
<text x="227.9" y="147.25" font-family="Liberation Serif" font-size="7.2" font-weight="normal" fill="#b42824" text-anchor="start" textLength="24" lengthAdjust="spacingAndGlyphs"  stroke="#b42824" stroke-width="0.18">LM339-3</text>
<circle cx="240.5" cy="150.2" r="1.6" fill="none" stroke="#b42824" stroke-width="1.1"/>
<path d="M240.5,151.8 L240.5,154.6" stroke="#b42824" stroke-width="1.35" fill="none" />
<text x="226.7" y="160.75" font-family="Liberation Serif" font-size="7.2" font-weight="normal" fill="#b42824" text-anchor="start" textLength="11.2" lengthAdjust="spacingAndGlyphs"  stroke="#b42824" stroke-width="0.18">Vcc</text>
<text x="242" y="160.75" font-family="Liberation Serif" font-size="7.2" font-weight="normal" fill="#b42824" text-anchor="start" textLength="13.4" lengthAdjust="spacingAndGlyphs"  stroke="#b42824" stroke-width="0.18">+12v</text>
<text x="234" y="176.45" font-family="Liberation Serif" font-size="7.2" font-weight="normal" fill="#b42824" text-anchor="start" textLength="13.4" lengthAdjust="spacingAndGlyphs"  stroke="#b42824" stroke-width="0.18">GND</text>
<path d="M234.6,177.1 L247,177.1" stroke="#b42824" stroke-width="1.35" fill="none" />
<path d="M240.5,177.1 L240.5,186.9" stroke="#b42824" stroke-width="1.35" fill="none" />
<circle cx="240.5" cy="188.6" r="1.6" fill="none" stroke="#b42824" stroke-width="1.1"/>
<text x="226.1" y="197.25" font-family="Liberation Serif" font-size="7.2" font-weight="normal" fill="#b42824" text-anchor="start" textLength="27.4" lengthAdjust="spacingAndGlyphs"  stroke="#b42824" stroke-width="0.18">LM339-12</text>
<text x="365.9" y="154.25" font-family="Liberation Serif" font-size="7.2" font-weight="normal" fill="#b42824" text-anchor="start" textLength="23.2" lengthAdjust="spacingAndGlyphs"  stroke="#b42824" stroke-width="0.18">D111-16</text>
<circle cx="377.2" cy="157.4" r="1.6" fill="none" stroke="#b42824" stroke-width="1.1"/>
<path d="M377.2,159 L377.2,161.4" stroke="#b42824" stroke-width="1.35" fill="none" />
<text x="362.5" y="167.75" font-family="Liberation Serif" font-size="7.2" font-weight="normal" fill="#b42824" text-anchor="start" textLength="11.3" lengthAdjust="spacingAndGlyphs"  stroke="#b42824" stroke-width="0.18">Vcc</text>
<text x="378.3" y="167.75" font-family="Liberation Serif" font-size="7.2" font-weight="normal" fill="#b42824" text-anchor="start" textLength="13" lengthAdjust="spacingAndGlyphs"  stroke="#b42824" stroke-width="0.18">+5V</text>
<text x="370.4" y="189.85" font-family="Liberation Serif" font-size="7.2" font-weight="normal" fill="#b42824" text-anchor="start" textLength="14.2" lengthAdjust="spacingAndGlyphs"  stroke="#b42824" stroke-width="0.18">GND</text>
<path d="M370.8,191.2 L384.2,191.2" stroke="#b42824" stroke-width="1.35" fill="none" />
<path d="M377.2,191.2 L377.2,202" stroke="#b42824" stroke-width="1.35" fill="none" />
<circle cx="377.2" cy="203.6" r="1.6" fill="none" stroke="#b42824" stroke-width="1.1"/>
<text x="367.5" y="212.35" font-family="Liberation Serif" font-size="7.2" font-weight="normal" fill="#b42824" text-anchor="start" textLength="19.8" lengthAdjust="spacingAndGlyphs"  stroke="#b42824" stroke-width="0.18">D111-8</text>
<text x="365.9" y="305.95" font-family="Liberation Serif" font-size="7.2" font-weight="normal" fill="#b42824" text-anchor="start" textLength="23.2" lengthAdjust="spacingAndGlyphs"  stroke="#b42824" stroke-width="0.18">D101-14</text>
<circle cx="377.2" cy="309.7" r="1.6" fill="none" stroke="#b42824" stroke-width="1.1"/>
<path d="M377.2,311.3 L377.2,313.7" stroke="#b42824" stroke-width="1.35" fill="none" />
<text x="362.5" y="319.05" font-family="Liberation Serif" font-size="7.2" font-weight="normal" fill="#b42824" text-anchor="start" textLength="11.3" lengthAdjust="spacingAndGlyphs"  stroke="#b42824" stroke-width="0.18">Vcc</text>
<text x="378.3" y="319.05" font-family="Liberation Serif" font-size="7.2" font-weight="normal" fill="#b42824" text-anchor="start" textLength="13" lengthAdjust="spacingAndGlyphs"  stroke="#b42824" stroke-width="0.18">+5V</text>
<text x="370.4" y="334.05" font-family="Liberation Serif" font-size="7.2" font-weight="normal" fill="#b42824" text-anchor="start" textLength="14.2" lengthAdjust="spacingAndGlyphs"  stroke="#b42824" stroke-width="0.18">GND</text>
<path d="M370.8,335 L384.2,335" stroke="#b42824" stroke-width="1.35" fill="none" />
<path d="M377.2,335 L377.2,345.9" stroke="#b42824" stroke-width="1.35" fill="none" />
<circle cx="377.2" cy="347.5" r="1.6" fill="none" stroke="#b42824" stroke-width="1.1"/>
<text x="367.5" y="355.65" font-family="Liberation Serif" font-size="7.2" font-weight="normal" fill="#b42824" text-anchor="start" textLength="19.8" lengthAdjust="spacingAndGlyphs"  stroke="#b42824" stroke-width="0.18">D101-7</text>
<path d="M406.5,68.7 L406.5,400.7 L442.4,400.7" stroke="#24246e" stroke-width="1.35" fill="none" />
<path d="M643.9,205.6 L693.8,205.6 L693.8,271 L701.2,271" stroke="#24246e" stroke-width="1.35" fill="none" />
<path d="M622.2,242.3 L643.9,242.3" stroke="#24246e" stroke-width="1.35" fill="none" />
<path d="M643.9,242.3 L643.9,278 L701.2,278" stroke="#24246e" stroke-width="1.35" fill="none" />
<path d="M643.9,285.2 L701.2,285.2" stroke="#24246e" stroke-width="1.35" fill="none" />
<path d="M622.2,321.9 L658.2,321.9 L658.2,292.4 L701.2,292.4" stroke="#24246e" stroke-width="1.35" fill="none" />
<path d="M643.9,436.9 L665.6,436.9 L665.6,299.7 L701.2,299.7" stroke="#24246e" stroke-width="1.35" fill="none" />
<path d="M622.2,473.6 L686.8,473.6" stroke="#24246e" stroke-width="1.35" fill="none" />
<path d="M686.8,278 L686.8,473.6" stroke="#24246e" stroke-width="1.35" fill="none" />
<path d="M686.8,306.8 L701.2,306.8" stroke="#24246e" stroke-width="1.35" fill="none" />
<path d="M686.8,473.6 L686.8,480.2" stroke="#7a1a1a" stroke-width="1.35" fill="none" />
<path d="M682.3,480.2 H691.3" stroke="#c02424" stroke-width="1.5" fill="none"/>
<rect x="701.2" y="263.8" width="14.5" height="50.7" fill="#FFFFA6" stroke="#923a1c" stroke-width="1.4"/>
<text x="701.2" y="261.74" font-family="Liberation Serif" font-size="6.6" font-weight="bold" fill="#18185a" text-anchor="start" textLength="8" lengthAdjust="spacingAndGlyphs"  stroke="#18185a" stroke-width="0.18">X3</text>
<text x="705.7" y="273.31" font-family="Liberation Serif" font-size="6.8" font-weight="bold" fill="#1a1a08" text-anchor="middle"  stroke="#1a1a08" stroke-width="0.18">1</text>
<text x="705.7" y="280.31" font-family="Liberation Serif" font-size="6.8" font-weight="bold" fill="#1a1a08" text-anchor="middle"  stroke="#1a1a08" stroke-width="0.18">2</text>
<text x="705.7" y="287.51" font-family="Liberation Serif" font-size="6.8" font-weight="bold" fill="#1a1a08" text-anchor="middle"  stroke="#1a1a08" stroke-width="0.18">3</text>
<text x="705.7" y="294.71" font-family="Liberation Serif" font-size="6.8" font-weight="bold" fill="#1a1a08" text-anchor="middle"  stroke="#1a1a08" stroke-width="0.18">4</text>
<text x="705.7" y="302.01" font-family="Liberation Serif" font-size="6.8" font-weight="bold" fill="#1a1a08" text-anchor="middle"  stroke="#1a1a08" stroke-width="0.18">5</text>
<text x="705.7" y="309.11" font-family="Liberation Serif" font-size="6.8" font-weight="bold" fill="#1a1a08" text-anchor="middle"  stroke="#1a1a08" stroke-width="0.18">6</text>
<text x="400.7" y="10.85" font-family="Liberation Serif" font-size="7.2" font-weight="normal" fill="#b42824" text-anchor="start" textLength="10.7" lengthAdjust="spacingAndGlyphs"  stroke="#b42824" stroke-width="0.18">+5V</text>
<circle cx="406.5" cy="14" r="1.8" fill="none" stroke="#b42824" stroke-width="1.1"/>
<path d="M406.5,15.8 L406.5,24.6" stroke="#1e1e1e" stroke-width="1.35" fill="none" />
<path d="M406.5,24.6 L408.6,26.78 L404.4,31.14 L408.6,35.5 L404.4,39.86 L408.6,44.22 L406.5,46.4" stroke="#2a2ad6" stroke-width="1.15" fill="none" />
<path d="M406.5,46.4 L406.5,68.7" stroke="#1e1e1e" stroke-width="1.35" fill="none" />
<text x="408.3" y="31.28" font-family="Liberation Serif" font-size="7.0" font-weight="bold" fill="#18185a" text-anchor="start" textLength="9.3" lengthAdjust="spacingAndGlyphs"  stroke="#18185a" stroke-width="0.18">1K5</text>
<path d="M406.5,54.7 L399.4,54.7" stroke="#1e1e1e" stroke-width="1.35" fill="none" />
<path d="M378.2,54.7 L380.32,52.6 L384.56,56.8 L388.8,52.6 L393.04,56.8 L397.28,52.6 L399.4,54.7" stroke="#2a2ad6" stroke-width="1.15" fill="none" />
<path d="M378.2,54.7 L363.4,54.7 L363.4,61.8" stroke="#1e1e1e" stroke-width="1.35" fill="none" />
<text x="385" y="48.38" font-family="Liberation Serif" font-size="7.0" font-weight="bold" fill="#18185a" text-anchor="start" textLength="9.6" lengthAdjust="spacingAndGlyphs"  stroke="#18185a" stroke-width="0.18">10K</text>
<text x="348.4" y="53.01" font-family="Liberation Serif" font-size="6.8" font-weight="normal" fill="#b42824" text-anchor="start" textLength="17.5" lengthAdjust="spacingAndGlyphs"  stroke="#b42824" stroke-width="0.18">7.05V</text>
<path d="M370.1,54.7 L398.5,69.05 L370.1,83.4 Z" fill="none" stroke="#1e1ee0" stroke-width="1.2"/>
<path d="M372.3,61.44 h5 M374.8,58.94 v5 M372.3,75.79 h5" stroke="#1e1ee0" stroke-width="1.3" fill="none"/>
<text x="383.3" y="59.38" font-family="Liberation Serif" font-size="7.0" font-weight="bold" fill="#18185a" text-anchor="start" textLength="12.4" lengthAdjust="spacingAndGlyphs"  stroke="#18185a" stroke-width="0.18">A101</text>
<text x="383.3" y="82.98" font-family="Liberation Serif" font-size="7.0" font-weight="bold" fill="#18185a" text-anchor="start" textLength="18.6" lengthAdjust="spacingAndGlyphs"  stroke="#18185a" stroke-width="0.18">LM339</text>
<path d="M363.4,61.8 L370.1,61.8" stroke="#1e1e1e" stroke-width="1.35" fill="none" />
<path d="M363.4,61.8 L363.4,68.7 L356.5,68.7" stroke="#1e1e1e" stroke-width="1.35" fill="none" />
<path d="M334.5,68.7 L336.7,66.6 L341.1,70.8 L345.5,66.6 L349.9,70.8 L354.3,66.6 L356.5,68.7" stroke="#2a2ad6" stroke-width="1.15" fill="none" />
<path d="M334.5,68.7 L319.6,68.7" stroke="#1e1e1e" stroke-width="1.35" fill="none" />
<path d="M319.6,65 L319.6,70.5" stroke="#1e1e1e" stroke-width="1.35" fill="none" />
<text x="334.2" y="77.68" font-family="Liberation Serif" font-size="7.0" font-weight="bold" fill="#18185a" text-anchor="start" textLength="10.2" lengthAdjust="spacingAndGlyphs"  stroke="#18185a" stroke-width="0.18">4K7</text>
<path d="M370.1,76.1 L363.6,76.1 L363.6,82.8 L359.2,82.8" stroke="#1e1e1e" stroke-width="1.35" fill="none" />
<circle cx="357.4" cy="82.8" r="1.8" fill="none" stroke="#b42824" stroke-width="1.1"/>
<text x="342.2" y="85.35" font-family="Liberation Serif" font-size="7.2" font-weight="normal" fill="#b42824" text-anchor="start" textLength="10.7" lengthAdjust="spacingAndGlyphs"  stroke="#b42824" stroke-width="0.18">+5V</text>
<text x="366.2" y="67.11" font-family="Liberation Serif" font-size="6.8" font-weight="normal" fill="#8c2818" text-anchor="start" textLength="5.6" lengthAdjust="spacingAndGlyphs"  stroke="#8c2818" stroke-width="0.12">11</text>
<text x="366.2" y="81.51" font-family="Liberation Serif" font-size="6.8" font-weight="normal" fill="#8c2818" text-anchor="start" textLength="5.8" lengthAdjust="spacingAndGlyphs"  stroke="#8c2818" stroke-width="0.12">10</text>
<text x="399.6" y="74.51" font-family="Liberation Serif" font-size="6.8" font-weight="normal" fill="#8c2818" text-anchor="start" textLength="6.2" lengthAdjust="spacingAndGlyphs"  stroke="#8c2818" stroke-width="0.12">13</text>
<path d="M398.5,68.7 L406.5,68.7" stroke="#1e1e1e" stroke-width="1.35" fill="none" />
<path d="M0,531.2 H737" stroke="#3a3a28" stroke-width="1.4"/>
<path d="M147.3,530.5 V533" stroke="#181818" stroke-width="1.6"/>
<path d="M327.3,530.5 V533" stroke="#181818" stroke-width="1.6"/>
<path d="M506.8,530.5 V533" stroke="#181818" stroke-width="1.6"/>
<path d="M686.8,530.5 V533" stroke="#181818" stroke-width="1.6"/>
<circle cx="197.4" cy="112.4" r="2.15" fill="#7a0c0c"/>
<circle cx="226.3" cy="112.4" r="2.15" fill="#7a0c0c"/>
<circle cx="269.5" cy="119.7" r="2.15" fill="#7a0c0c"/>
<circle cx="298.2" cy="119.7" r="2.15" fill="#7a0c0c"/>
<circle cx="298.4" cy="191.4" r="2.15" fill="#7a0c0c"/>
<circle cx="319.7" cy="191.4" r="2.15" fill="#7a0c0c"/>
<circle cx="449.3" cy="148.5" r="2.15" fill="#7a0c0c"/>
<circle cx="470.9" cy="148.5" r="2.15" fill="#7a0c0c"/>
<circle cx="528.2" cy="112.3" r="2.15" fill="#7a0c0c"/>
<circle cx="564.2" cy="76.4" r="2.15" fill="#7a0c0c"/>
<circle cx="564.2" cy="133.6" r="2.15" fill="#7a0c0c"/>
<circle cx="564.2" cy="148" r="2.15" fill="#7a0c0c"/>
<circle cx="600.5" cy="148" r="2.15" fill="#7a0c0c"/>
<circle cx="564.2" cy="162.4" r="2.15" fill="#7a0c0c"/>
<circle cx="600.5" cy="162.4" r="2.15" fill="#7a0c0c"/>
<circle cx="564.2" cy="176.8" r="2.15" fill="#7a0c0c"/>
<circle cx="600.5" cy="176.8" r="2.15" fill="#7a0c0c"/>
<circle cx="564.2" cy="191.2" r="2.15" fill="#7a0c0c"/>
<circle cx="600.5" cy="191.2" r="2.15" fill="#7a0c0c"/>
<circle cx="600.5" cy="205.6" r="2.15" fill="#7a0c0c"/>
<circle cx="622.2" cy="205.6" r="2.15" fill="#7a0c0c"/>
<circle cx="643.9" cy="205.6" r="2.15" fill="#7a0c0c"/>
<circle cx="197.4" cy="264" r="2.15" fill="#7a0c0c"/>
<circle cx="226.3" cy="264" r="2.15" fill="#7a0c0c"/>
<circle cx="219.1" cy="278" r="2.15" fill="#7a0c0c"/>
<circle cx="269.5" cy="271.3" r="2.15" fill="#7a0c0c"/>
<circle cx="298.2" cy="271.3" r="2.15" fill="#7a0c0c"/>
<circle cx="298.4" cy="343" r="2.15" fill="#7a0c0c"/>
<circle cx="319.7" cy="343" r="2.15" fill="#7a0c0c"/>
<circle cx="449.3" cy="300.1" r="2.15" fill="#7a0c0c"/>
<circle cx="470.9" cy="300.1" r="2.15" fill="#7a0c0c"/>
<circle cx="528.2" cy="263.9" r="2.15" fill="#7a0c0c"/>
<circle cx="564.2" cy="228" r="2.15" fill="#7a0c0c"/>
<circle cx="564.2" cy="285.2" r="2.15" fill="#7a0c0c"/>
<circle cx="600.5" cy="285.2" r="2.15" fill="#7a0c0c"/>
<circle cx="564.2" cy="299.6" r="2.15" fill="#7a0c0c"/>
<circle cx="600.5" cy="299.6" r="2.15" fill="#7a0c0c"/>
<circle cx="564.2" cy="314" r="2.15" fill="#7a0c0c"/>
<circle cx="600.5" cy="314" r="2.15" fill="#7a0c0c"/>
<circle cx="564.2" cy="328.4" r="2.15" fill="#7a0c0c"/>
<circle cx="600.5" cy="328.4" r="2.15" fill="#7a0c0c"/>
<circle cx="564.2" cy="342.8" r="2.15" fill="#7a0c0c"/>
<circle cx="600.5" cy="342.8" r="2.15" fill="#7a0c0c"/>
<circle cx="622.2" cy="285.2" r="2.15" fill="#7a0c0c"/>
<circle cx="643.9" cy="285.2" r="2.15" fill="#7a0c0c"/>
<circle cx="197.4" cy="415.7" r="2.15" fill="#7a0c0c"/>
<circle cx="226.3" cy="415.7" r="2.15" fill="#7a0c0c"/>
<circle cx="269.5" cy="423" r="2.15" fill="#7a0c0c"/>
<circle cx="298.2" cy="423" r="2.15" fill="#7a0c0c"/>
<circle cx="298.4" cy="494.7" r="2.15" fill="#7a0c0c"/>
<circle cx="319.7" cy="494.7" r="2.15" fill="#7a0c0c"/>
<circle cx="449.3" cy="451.8" r="2.15" fill="#7a0c0c"/>
<circle cx="470.9" cy="451.8" r="2.15" fill="#7a0c0c"/>
<circle cx="528.2" cy="415.6" r="2.15" fill="#7a0c0c"/>
<circle cx="564.2" cy="379.7" r="2.15" fill="#7a0c0c"/>
<circle cx="564.2" cy="436.9" r="2.15" fill="#7a0c0c"/>
<circle cx="600.5" cy="436.9" r="2.15" fill="#7a0c0c"/>
<circle cx="564.2" cy="451.3" r="2.15" fill="#7a0c0c"/>
<circle cx="600.5" cy="451.3" r="2.15" fill="#7a0c0c"/>
<circle cx="564.2" cy="465.7" r="2.15" fill="#7a0c0c"/>
<circle cx="600.5" cy="465.7" r="2.15" fill="#7a0c0c"/>
<circle cx="564.2" cy="480.1" r="2.15" fill="#7a0c0c"/>
<circle cx="600.5" cy="480.1" r="2.15" fill="#7a0c0c"/>
<circle cx="564.2" cy="494.5" r="2.15" fill="#7a0c0c"/>
<circle cx="600.5" cy="494.5" r="2.15" fill="#7a0c0c"/>
<circle cx="622.2" cy="436.9" r="2.15" fill="#7a0c0c"/>
<circle cx="643.9" cy="436.9" r="2.15" fill="#7a0c0c"/>
<circle cx="183.2" cy="169.8" r="2.15" fill="#7a0c0c"/>
<circle cx="204.6" cy="169.8" r="2.15" fill="#7a0c0c"/>
<circle cx="219.1" cy="169.8" r="2.15" fill="#7a0c0c"/>
<circle cx="204.6" cy="206.2" r="2.15" fill="#7a0c0c"/>
<circle cx="406.5" cy="249.4" r="2.15" fill="#7a0c0c"/>
<circle cx="643.9" cy="242.3" r="2.15" fill="#7a0c0c"/>
<circle cx="643.9" cy="321.9" r="2.15" fill="#7a0c0c"/>
<circle cx="643.9" cy="473.6" r="2.15" fill="#7a0c0c"/>
<circle cx="686.8" cy="278" r="2.15" fill="#7a0c0c"/>
<circle cx="686.8" cy="292.4" r="2.15" fill="#7a0c0c"/>
<circle cx="686.8" cy="306.8" r="2.15" fill="#7a0c0c"/>
<circle cx="686.8" cy="473.6" r="2.15" fill="#7a0c0c"/>
<circle cx="406.5" cy="54.7" r="2.15" fill="#7a0c0c"/>
<circle cx="406.5" cy="68.7" r="2.15" fill="#7a0c0c"/>
<circle cx="363.4" cy="61.8" r="2.15" fill="#7a0c0c"/>
<ellipse cx="375.5" cy="48" rx="63.2" ry="56.8" fill="none" stroke="#e60f0f" stroke-width="3.8"/>
<defs>
<radialGradient id="halo" cx="0.5" cy="0.5" r="0.5">
<stop offset="0" stop-color="#ffffff" stop-opacity="0.85"/>
<stop offset="0.6" stop-color="#ffffff" stop-opacity="0.55"/>
<stop offset="1" stop-color="#ffffff" stop-opacity="0"/>
</radialGradient>
<filter id="sh" x="-20%" y="-20%" width="140%" height="140%"><feGaussianBlur stdDeviation="1.2"/></filter>
</defs>
<ellipse cx="664" cy="497" rx="80" ry="34" fill="url(#halo)"/>
<path d="M636,490 L648,478" stroke="#cfcfcf" stroke-width="4" fill="none" stroke-linecap="round"/>
<path d="M637.5,488.5 L647,479" stroke="#f4f4f4" stroke-width="1.6" fill="none" stroke-linecap="round"/>
<g filter="url(#sh)" opacity="0.35"><path d="M628.39,500.11 L631.59,502.12 L630.20,505.27 L626.55,504.26 L623.86,506.84 L624.70,510.52 L621.48,511.77 L619.62,508.48 L615.89,508.39 L613.88,511.59 L610.73,510.20 L611.74,506.55 L609.16,503.86 L605.48,504.70 L604.23,501.48 L607.52,499.62 L607.61,495.89 L604.41,493.88 L605.80,490.73 L609.45,491.74 L612.14,489.16 L611.30,485.48 L614.52,484.23 L616.38,487.52 L620.11,487.61 L622.12,484.41 L625.27,485.80 L624.26,489.45 L626.84,492.14 L630.52,491.30 L631.77,494.52 L628.48,496.38 Z M617.99,498.00 a0.01,0.01 0 1,0 0.02,0 a0.01,0.01 0 1,0 -0.02,0 Z" fill="#808080" fill-rule="evenodd"/><path d="M660.14,509.22 L663.90,511.13 L662.67,514.87 L658.51,514.19 L655.72,517.44 L657.03,521.45 L653.52,523.23 L651.06,519.81 L646.78,520.14 L644.87,523.90 L641.13,522.67 L641.81,518.51 L638.56,515.72 L634.55,517.03 L632.77,513.52 L636.19,511.06 L635.86,506.78 L632.10,504.87 L633.33,501.13 L637.49,501.81 L640.28,498.56 L638.97,494.55 L642.48,492.77 L644.94,496.19 L649.22,495.86 L651.13,492.10 L654.87,493.33 L654.19,497.49 L657.44,500.28 L661.45,498.97 L663.23,502.48 L659.81,504.94 Z M647.99,508.00 a0.01,0.01 0 1,0 0.02,0 a0.01,0.01 0 1,0 -0.02,0 Z" fill="#808080" fill-rule="evenodd"/></g>
<path d="M626.39,498.11 L629.59,500.12 L628.20,503.27 L624.55,502.26 L621.86,504.84 L622.70,508.52 L619.48,509.77 L617.62,506.48 L613.89,506.39 L611.88,509.59 L608.73,508.20 L609.74,504.55 L607.16,501.86 L603.48,502.70 L602.23,499.48 L605.52,497.62 L605.61,493.89 L602.41,491.88 L603.80,488.73 L607.45,489.74 L610.14,487.16 L609.30,483.48 L612.52,482.23 L614.38,485.52 L618.11,485.61 L620.12,482.41 L623.27,483.80 L622.26,487.45 L624.84,490.14 L628.52,489.30 L629.77,492.52 L626.48,494.38 Z M612.40,496.00 a3.60,3.60 0 1,0 7.20,0 a3.60,3.60 0 1,0 -7.20,0 Z" fill="#f59a3c" fill-rule="evenodd"/>
<path d="M658.14,507.22 L661.90,509.13 L660.67,512.87 L656.51,512.19 L653.72,515.44 L655.03,519.45 L651.52,521.23 L649.06,517.81 L644.78,518.14 L642.87,521.90 L639.13,520.67 L639.81,516.51 L636.56,513.72 L632.55,515.03 L630.77,511.52 L634.19,509.06 L633.86,504.78 L630.10,502.87 L631.33,499.13 L635.49,499.81 L638.28,496.56 L636.97,492.55 L640.48,490.77 L642.94,494.19 L647.22,493.86 L649.13,490.10 L652.87,491.33 L652.19,495.49 L655.44,498.28 L659.45,496.97 L661.23,500.48 L657.81,502.94 Z M641.80,506.00 a4.20,4.20 0 1,0 8.40,0 a4.20,4.20 0 1,0 -8.40,0 Z" fill="#c8e145" fill-rule="evenodd"/>
<circle cx="616" cy="496" r="3.6" fill="#fbfbf0"/><circle cx="646" cy="506" r="4.2" fill="#fbfbf0"/>
<g opacity="0.25" filter="url(#sh)"><path transform="translate(658.5,484)" d="M1,3 H10 V8 H1 Z M5.5,0 V11" stroke="#f29540" stroke-width="2.1" fill="none" stroke-linecap="square"/><path transform="translate(671.8,484)" d="M3,0 L1,4 M2.5,2 V6 M6,0.5 V4.5 Q6,6 8,5.5 M9.5,1.5 L6,3.5 M0,7.5 H11 M5.5,5.5 V11" stroke="#f29540" stroke-width="2.1" fill="none" stroke-linecap="square"/><path transform="translate(685.1,484)" d="M1,1 H10 M5.5,1 V10 M0,10 H11" stroke="#f29540" stroke-width="2.1" fill="none" stroke-linecap="square"/><path transform="translate(698.4,484)" d="M0,3.5 H3.5 M2,0 V10.5 L0.5,9.5 M0,7 L3.5,5.5 M5,2 V1 H11 V2 M7,3 L5.5,5 M9,3 L10.5,5 M5,7 H11 M8,7 V10.5 M4.5,10.5 H11" stroke="#f29540" stroke-width="2.1" fill="none" stroke-linecap="square"/><path transform="translate(711.7,484)" d="M1,11 V0.5 H10 V11 L8.5,10 M2.5,3 L5.5,8 M5.5,3 L2.5,8 M5.8,3 L8.8,8 M8.8,3 L5.8,8" stroke="#f29540" stroke-width="2.1" fill="none" stroke-linecap="square"/></g>
<path transform="translate(657.5,483)" d="M1,3 H10 V8 H1 Z M5.5,0 V11" stroke="#f29540" stroke-width="2.1" fill="none" stroke-linecap="square"/><path transform="translate(670.8,483)" d="M3,0 L1,4 M2.5,2 V6 M6,0.5 V4.5 Q6,6 8,5.5 M9.5,1.5 L6,3.5 M0,7.5 H11 M5.5,5.5 V11" stroke="#f29540" stroke-width="2.1" fill="none" stroke-linecap="square"/><path transform="translate(684.1,483)" d="M1,1 H10 M5.5,1 V10 M0,10 H11" stroke="#f29540" stroke-width="2.1" fill="none" stroke-linecap="square"/><path transform="translate(697.4,483)" d="M0,3.5 H3.5 M2,0 V10.5 L0.5,9.5 M0,7 L3.5,5.5 M5,2 V1 H11 V2 M7,3 L5.5,5 M9,3 L10.5,5 M5,7 H11 M8,7 V10.5 M4.5,10.5 H11" stroke="#f29540" stroke-width="2.1" fill="none" stroke-linecap="square"/><path transform="translate(710.7,483)" d="M1,11 V0.5 H10 V11 L8.5,10 M2.5,3 L5.5,8 M5.5,3 L2.5,8 M5.8,3 L8.8,8 M8.8,3 L5.8,8" stroke="#f29540" stroke-width="2.1" fill="none" stroke-linecap="square"/>
<text x="666.5" y="505.6" font-family="Liberation Sans" font-size="11.6" fill="#909090" opacity="0.6" filter="url(#sh)" textLength="55.4" lengthAdjust="spacingAndGlyphs">gkong.com</text>
<text x="665.8" y="504.8" font-family="Liberation Sans" font-size="11.6" fill="#4e4e4e" textLength="55.4" lengthAdjust="spacingAndGlyphs">gkong.com</text>
</svg>
</body></html>
